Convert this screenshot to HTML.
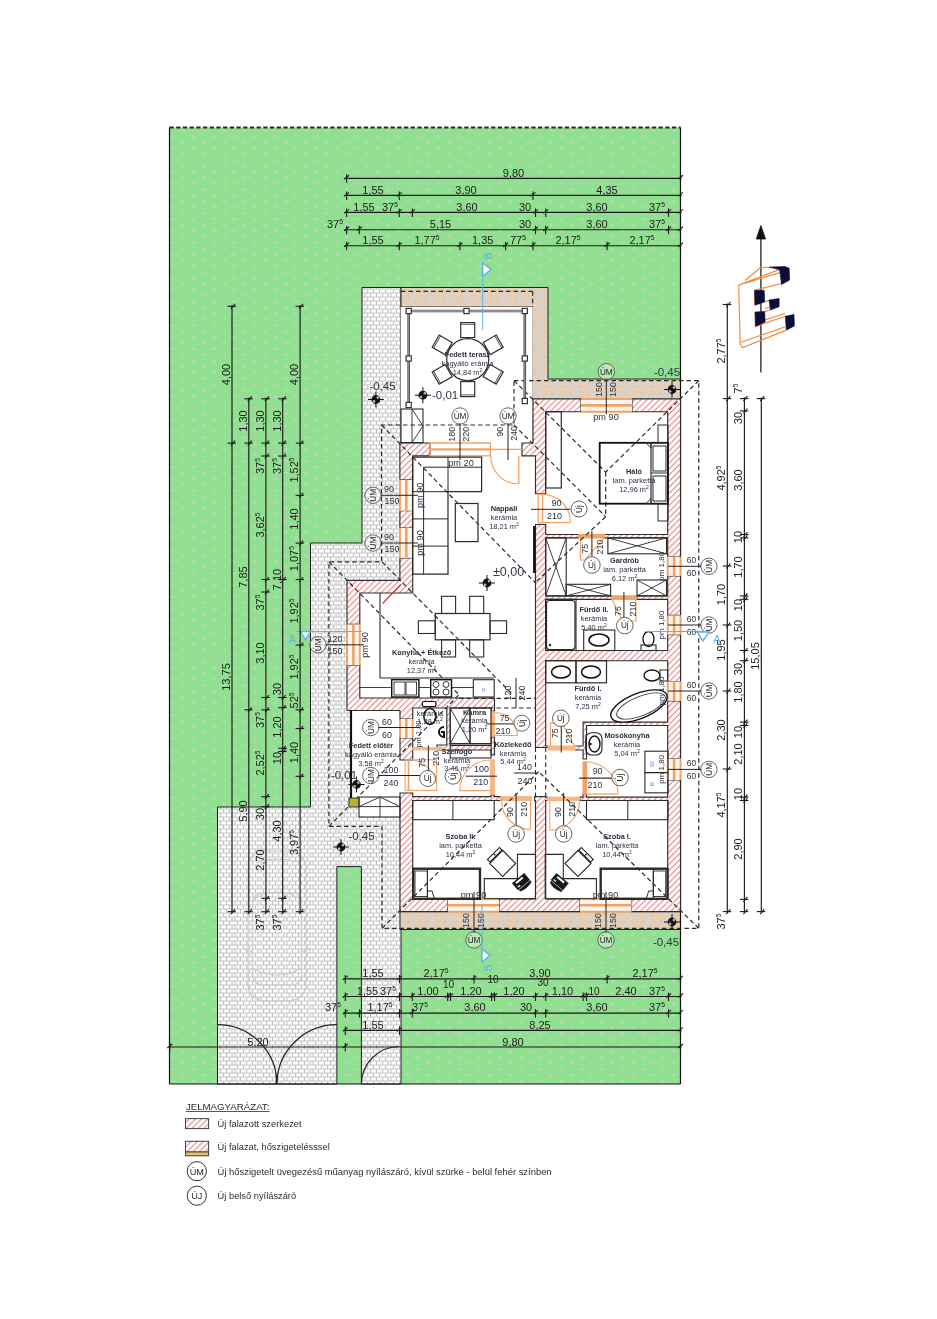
<!DOCTYPE html><html><head><meta charset="utf-8"><style>html,body{margin:0;padding:0;background:#fff;}svg{display:block;font-family:"Liberation Sans",sans-serif;filter:blur(0.35px);}</style></head><body>
<svg width="937" height="1319" viewBox="0 0 937 1319">
<defs>
<pattern id="grass" patternUnits="userSpaceOnUse" x="178.4" y="127.6" width="20.43" height="11.806"><rect width="20.43" height="11.806" fill="#91df91"/><ellipse cx="5" cy="3" rx="2.2" ry="1.25" fill="#bcd6bc" fill-opacity="0.85"/><ellipse cx="15.2" cy="8.9" rx="2.2" ry="1.25" fill="#bcd6bc" fill-opacity="0.85"/></pattern>
<pattern id="brick" patternUnits="userSpaceOnUse" x="0" y="0.5" width="26" height="8"><rect width="26" height="8" fill="#fdfdfd"/><path d="M0 0.5H26M0 4.5H26M3.5 0V4M9.5 0V4M15.5 0V4M21.5 0V4M1 4V8M6.5 4V8M12.5 4V8M18.5 4V8M24 4V8" stroke="#c4c4c4" stroke-width="1.1"/></pattern>
<pattern id="stone" patternUnits="userSpaceOnUse" width="18" height="12"><rect width="18" height="12" fill="#d8d2cc"/><ellipse cx="3" cy="2.5" rx="2.6" ry="1.9" fill="#f4c897"/><ellipse cx="10" cy="3" rx="3.1" ry="2.1" fill="#f2c99e"/><ellipse cx="16" cy="6" rx="1.8" ry="1.5" fill="#f6cb9a"/><ellipse cx="6" cy="8.5" rx="2.9" ry="2" fill="#f4c897"/><ellipse cx="12.5" cy="9.5" rx="2" ry="1.5" fill="#eec49c"/><circle cx="8" cy="5.5" r="0.8" fill="#e6e2de"/><circle cx="1" cy="6" r="0.8" fill="#e6e2de"/></pattern>
<pattern id="hatch" patternUnits="userSpaceOnUse" width="4.3" height="4.3" patternTransform="rotate(45)"><rect width="4.3" height="4.3" fill="#fff"/><rect x="0" y="0" width="1.15" height="4.3" fill="#ea8888"/></pattern>
</defs>
<rect x="169.5" y="127.5" width="511" height="956.5" fill="url(#grass)"/>
<path d="M362 287.5 L401 287.5 L401 1084 L361.4 1084 L361.4 866.6 L336.9 866.6 L336.9 1084 L217.5 1084 L217.5 807 L310.5 807 L310.5 543 L362 543 Z" fill="url(#brick)" stroke="#222" stroke-width="1"/>
<path d="M532 287.5 L401 287.5 L401 307 L532 307 L532 379 L532 399 L548 399 L680.5 399 L680.5 379 L548 379 L548 307 L548 287.5 L532 287.5Z M400 929.5 L680.5 929.5 L680.5 911.6 L400 911.6 L400 929.5Z " fill="url(#stone)" stroke="#222" stroke-width="1"/>
<rect x="401" y="307" width="131.5" height="136" fill="#fff"/>
<path d="M399.9 443 L533 443 L533 399 L680.5 399 L680.5 911.6 L400 911.6 L400 817 L359 817 L359 807 L351 807 L351 710 L347 710 L347 580.3 L399.9 580.3 Z" fill="#fff"/>
<line x1="169.5" y1="127.5" x2="680.5" y2="127.5" stroke="#2a2a2a" stroke-width="1.8" stroke-dasharray="4.2,2.5"/>
<line x1="169.5" y1="127.5" x2="169.5" y2="1084" stroke="#111" stroke-width="1.2"/>
<line x1="680.5" y1="127.5" x2="680.5" y2="1084" stroke="#111" stroke-width="1.2"/>
<line x1="169.5" y1="1084" x2="680.5" y2="1084" stroke="#111" stroke-width="1.2"/>
<path d="M533 443 L522 443 L522 455.8 L533 455.8 L535.5 455.8 L535.5 493.7 L545.7 493.7 L545.7 455.8 L545.7 411.7 L581 411.7 L581 399 L545.7 399 L533 399 L533 411.7 L533 443Z M412.7 443 L399.9 443 L399.9 455.8 L399.9 479.9 L412.7 479.9 L412.7 455.8 L430 455.8 L430 443 L412.7 443Z M399.9 528 L412.7 528 L412.7 510.7 L399.9 510.7 L399.9 528Z M399.9 580.3 L359.8 580.3 L347 580.3 L347 593 L347 624.4 L359.8 624.4 L359.8 593 L399.9 593 L412.7 593 L412.7 580.3 L412.7 557.9 L399.9 557.9 L399.9 580.3Z M347 698 L347 710.5 L359.8 710.5 L400 710.5 L400 719 L412.7 719 L412.7 710.5 L412.7 708 L446.8 708 L446.8 745 L437 745 L437 750 L491.1 750 L491.1 755 L494.5 755 L494.5 750 L494.5 745 L494.5 737 L491.1 737 L491.1 745 L450.2 745 L450.2 708 L491.1 708 L491.1 711 L494.5 711 L494.5 708 L494.5 698 L412.7 698 L359.8 698 L359.8 665.2 L347 665.2 L347 698Z M400 760 L412.7 760 L412.7 751 L412.7 750 L412.7 745 L412.7 744 L412.7 738 L400 738 L400 760Z M400 898.8 L400 911.6 L412.7 911.6 L448 911.6 L448 898.8 L412.7 898.8 L412.7 800.5 L500.8 800.5 L500.8 796.6 L494.5 796.6 L494.5 795 L491.1 795 L491.1 796.6 L412.7 796.6 L412.7 793 L400 793 L400 898.8Z M580 911.6 L580 898.8 L545.7 898.8 L545.7 800.5 L547.7 800.5 L547.7 797.1 L545.7 797.1 L545.7 796.6 L535.5 796.6 L534.6 796.6 L534.6 800.5 L535.5 800.5 L535.5 898.8 L499 898.8 L499 911.6 L580 911.6Z M667.7 911.6 L680.5 911.6 L680.5 898.8 L680.5 780 L667.7 780 L667.7 797.1 L586.5 797.1 L586.5 794 L583.1 794 L583.1 797.1 L579.8 797.1 L579.8 800.5 L583.1 800.5 L586.5 800.5 L667.7 800.5 L667.7 898.8 L631.5 898.8 L631.5 911.6 L667.7 911.6Z M680.5 700.8 L667.7 700.8 L667.7 722.1 L586.5 722.1 L583.1 722.1 L583.1 725.5 L583.1 746 L574.4 746 L574.4 750 L583.1 750 L583.1 759 L586.5 759 L586.5 725.5 L667.7 725.5 L667.7 758.7 L680.5 758.7 L680.5 700.8Z M680.5 634.6 L667.7 634.6 L667.7 650.5 L545.7 650.5 L545.7 599.3 L611.8 599.3 L611.8 595.9 L545.7 595.9 L545.7 537.9 L578.7 537.9 L578.7 534.5 L545.7 534.5 L545.7 524.5 L535.5 524.5 L535.5 695 L535.5 711 L535.5 747.5 L548.8 747.5 L548.8 746 L545.7 746 L545.7 660.7 L667.7 660.7 L667.7 681.5 L680.5 681.5 L680.5 634.6Z M680.5 575.9 L667.7 575.9 L667.7 595.9 L636.3 595.9 L636.3 599.3 L667.7 599.3 L667.7 615.4 L680.5 615.4 L680.5 575.9Z M680.5 411.7 L680.5 399 L667.7 399 L632 399 L632 411.7 L667.7 411.7 L667.7 534.5 L604.3 534.5 L604.3 537.9 L667.7 537.9 L667.7 556.7 L680.5 556.7 L680.5 411.7Z " fill="url(#hatch)" stroke="#2e2e2e" stroke-width="1.15" fill-rule="evenodd"/>
<rect x="581" y="399" width="51" height="12.7" fill="#fff7ef" stroke="none" stroke-width="0"/>
<line x1="581" y1="399" x2="632" y2="399" stroke="#f2a264" stroke-width="1.9"/>
<line x1="581" y1="405.35" x2="632" y2="405.35" stroke="#f2a264" stroke-width="2.6"/>
<line x1="581" y1="411.7" x2="632" y2="411.7" stroke="#f2a264" stroke-width="1.9"/>
<rect x="448" y="898.8" width="51" height="12.8" fill="#fff7ef" stroke="none" stroke-width="0"/>
<line x1="448" y1="898.8" x2="499" y2="898.8" stroke="#f2a264" stroke-width="1.9"/>
<line x1="448" y1="905.2" x2="499" y2="905.2" stroke="#f2a264" stroke-width="2.6"/>
<line x1="448" y1="911.6" x2="499" y2="911.6" stroke="#f2a264" stroke-width="1.9"/>
<rect x="580" y="898.8" width="51.5" height="12.8" fill="#fff7ef" stroke="none" stroke-width="0"/>
<line x1="580" y1="898.8" x2="631.5" y2="898.8" stroke="#f2a264" stroke-width="1.9"/>
<line x1="580" y1="905.2" x2="631.5" y2="905.2" stroke="#f2a264" stroke-width="2.6"/>
<line x1="580" y1="911.6" x2="631.5" y2="911.6" stroke="#f2a264" stroke-width="1.9"/>
<rect x="399.9" y="479.9" width="12.8" height="30.8" fill="#fff7ef" stroke="none" stroke-width="0"/>
<line x1="399.9" y1="479.9" x2="399.9" y2="510.7" stroke="#f2a264" stroke-width="1.9"/>
<line x1="406.3" y1="479.9" x2="406.3" y2="510.7" stroke="#f2a264" stroke-width="2.6"/>
<line x1="412.7" y1="479.9" x2="412.7" y2="510.7" stroke="#f2a264" stroke-width="1.9"/>
<rect x="399.9" y="528" width="12.8" height="29.9" fill="#fff7ef" stroke="none" stroke-width="0"/>
<line x1="399.9" y1="528" x2="399.9" y2="557.9" stroke="#f2a264" stroke-width="1.9"/>
<line x1="406.3" y1="528" x2="406.3" y2="557.9" stroke="#f2a264" stroke-width="2.6"/>
<line x1="412.7" y1="528" x2="412.7" y2="557.9" stroke="#f2a264" stroke-width="1.9"/>
<rect x="347" y="624.4" width="12.8" height="40.8" fill="#fff7ef" stroke="none" stroke-width="0"/>
<line x1="347" y1="624.4" x2="347" y2="665.2" stroke="#f2a264" stroke-width="1.9"/>
<line x1="353.4" y1="624.4" x2="353.4" y2="665.2" stroke="#f2a264" stroke-width="2.6"/>
<line x1="359.8" y1="624.4" x2="359.8" y2="665.2" stroke="#f2a264" stroke-width="1.9"/>
<rect x="400" y="719" width="12.7" height="19" fill="#fff7ef" stroke="none" stroke-width="0"/>
<line x1="400" y1="719" x2="400" y2="738" stroke="#f2a264" stroke-width="1.9"/>
<line x1="406.35" y1="719" x2="406.35" y2="738" stroke="#f2a264" stroke-width="2.6"/>
<line x1="412.7" y1="719" x2="412.7" y2="738" stroke="#f2a264" stroke-width="1.9"/>
<rect x="667.7" y="556.7" width="12.8" height="19.2" fill="#fff7ef" stroke="none" stroke-width="0"/>
<line x1="680.5" y1="556.7" x2="680.5" y2="575.9" stroke="#f2a264" stroke-width="1.9"/>
<line x1="674.1" y1="556.7" x2="674.1" y2="575.9" stroke="#f2a264" stroke-width="2.6"/>
<line x1="667.7" y1="556.7" x2="667.7" y2="575.9" stroke="#f2a264" stroke-width="1.9"/>
<rect x="667.7" y="615.4" width="12.8" height="19.2" fill="#fff7ef" stroke="none" stroke-width="0"/>
<line x1="680.5" y1="615.4" x2="680.5" y2="634.6" stroke="#f2a264" stroke-width="1.9"/>
<line x1="674.1" y1="615.4" x2="674.1" y2="634.6" stroke="#f2a264" stroke-width="2.6"/>
<line x1="667.7" y1="615.4" x2="667.7" y2="634.6" stroke="#f2a264" stroke-width="1.9"/>
<rect x="667.7" y="681.5" width="12.8" height="19.3" fill="#fff7ef" stroke="none" stroke-width="0"/>
<line x1="680.5" y1="681.5" x2="680.5" y2="700.8" stroke="#f2a264" stroke-width="1.9"/>
<line x1="674.1" y1="681.5" x2="674.1" y2="700.8" stroke="#f2a264" stroke-width="2.6"/>
<line x1="667.7" y1="681.5" x2="667.7" y2="700.8" stroke="#f2a264" stroke-width="1.9"/>
<rect x="667.7" y="758.7" width="12.8" height="21.3" fill="#fff7ef" stroke="none" stroke-width="0"/>
<line x1="680.5" y1="758.7" x2="680.5" y2="780" stroke="#f2a264" stroke-width="1.9"/>
<line x1="674.1" y1="758.7" x2="674.1" y2="780" stroke="#f2a264" stroke-width="2.6"/>
<line x1="667.7" y1="758.7" x2="667.7" y2="780" stroke="#f2a264" stroke-width="1.9"/>
<rect x="430" y="443" width="60.3" height="12.8" fill="none" stroke="#f2a264" stroke-width="1.4"/>
<line x1="430" y1="449.4" x2="490.3" y2="449.4" stroke="#f2a264" stroke-width="2.2"/>
<line x1="490.3" y1="449.4" x2="522" y2="449.4" stroke="#f2a264" stroke-width="1.4"/>
<line x1="518.8" y1="456" x2="518.8" y2="484" stroke="#f2a264" stroke-width="1.3"/>
<path d="M490.8 456 A28 28 0 0 0 518.8 484" fill="none" stroke="#f2a264" stroke-width="1.1"/>
<rect x="538.2" y="494.4" width="4.4" height="28.4" fill="none" stroke="#f2a264" stroke-width="1.3"/>
<line x1="542.6" y1="522.6" x2="570" y2="522.6" stroke="#f2a264" stroke-width="1.2"/>
<path d="M542.6 494.4 A28 28 0 0 1 570.4 522.6" fill="none" stroke="#f2a264" stroke-width="1.1"/>
<rect x="578.7" y="534.5" width="25.6" height="3.4" fill="#f2a264" stroke="#f2a264" stroke-width="1.2"/>
<path d="M580.5 537.9 L580.5 560 L585 560 L604 537.9" fill="none" stroke="#f2a264" stroke-width="1.2"/>
<rect x="611.8" y="595.9" width="24.5" height="3.4" fill="#f2a264" stroke="#f2a264" stroke-width="1.2"/>
<path d="M612 599.3 L622 620" fill="none" stroke="#f2a264" stroke-width="1.2"/>
<path d="M636 599.3 L636 621 L628 621" fill="none" stroke="#f2a264" stroke-width="1.2"/>
<rect x="548" y="746" width="27.2" height="4" fill="#f5b884" stroke="#f5b884" stroke-width="1"/>
<path d="M550.5 746 L550.5 723.2 L555 723.2" fill="none" stroke="#f2a264" stroke-width="1.2"/>
<line x1="563" y1="725" x2="574.5" y2="746" stroke="#f2a264" stroke-width="1.2"/>
<rect x="583.1" y="762" width="3.4" height="32" fill="#f2a264" stroke="#f2a264" stroke-width="1.3"/>
<line x1="586.5" y1="794" x2="618" y2="794" stroke="#f2a264" stroke-width="1.3"/>
<path d="M586.5 762 A32 32 0 0 1 618 794" fill="none" stroke="#f2a264" stroke-width="1.1"/>
<rect x="547.6" y="797.1" width="32" height="3.4" fill="#f5b884" stroke="#f5b884" stroke-width="1"/>
<path d="M579.6 800.5 A29.8 29.8 0 0 1 549.8 830.3 M549.8 800.5 V830.3" fill="none" stroke="#f2a264" stroke-width="1.1"/>
<rect x="500.7" y="796.6" width="30.9" height="3.9" fill="#f5b884" stroke="#f5b884" stroke-width="1"/>
<path d="M501.5 800.5 A29 29 0 0 0 530.5 829.5 M530.5 800.5 V829.5" fill="none" stroke="#f2a264" stroke-width="1.1"/>
<rect x="490.4" y="712" width="4" height="24" fill="#f5b884" stroke="#f5b884" stroke-width="1"/>
<path d="M494.4 712.5 A23 23 0 0 1 517.4 735.5 H494.4" fill="none" stroke="#f2a264" stroke-width="1.1"/>
<rect x="490.4" y="759.8" width="4" height="34.4" fill="#f5b884" stroke="#f5b884" stroke-width="1"/>
<path d="M490.4 760 A30.6 30.6 0 0 0 459.8 790.6 H490.4" fill="none" stroke="#f2a264" stroke-width="1.1"/>
<rect x="412.7" y="747.6" width="32.9" height="2.4" fill="#f5b884" stroke="#f5b884" stroke-width="0.8"/>
<rect x="405.2" y="759.8" width="31.4" height="30.6" fill="none" stroke="#f2a264" stroke-width="1.1"/>
<line x1="408.5" y1="759.8" x2="408.5" y2="790.4" stroke="#f2a264" stroke-width="1.6"/>
<path d="M412.7 760 A28 28 0 0 1 436.6 788" fill="none" stroke="#f2a264" stroke-width="1.0"/>
<path d="M514 380.6 L698.8 380.6 L698.8 928.4 L382 928.4 L382 826.4 L328.9 826.4 L328.9 561.8 L381.5 561.8 L381.5 425 L514 425 Z" fill="none" stroke="#2a2a2a" stroke-width="1.2" stroke-dasharray="4.5,3"/>
<line x1="381.5" y1="425" x2="535.2" y2="582.5" stroke="#2a2a2a" stroke-width="1.2" stroke-dasharray="4.5,3"/>
<line x1="605.7" y1="516.7" x2="535.2" y2="582.5" stroke="#2a2a2a" stroke-width="1.2" stroke-dasharray="4.5,3"/>
<line x1="514" y1="380.6" x2="605.7" y2="472.1" stroke="#2a2a2a" stroke-width="1.2" stroke-dasharray="4.5,3"/>
<line x1="698.8" y1="380.6" x2="605.7" y2="472.1" stroke="#2a2a2a" stroke-width="1.2" stroke-dasharray="4.5,3"/>
<line x1="605.7" y1="472.1" x2="605.7" y2="516.7" stroke="#2a2a2a" stroke-width="1.2" stroke-dasharray="4.5,3"/>
<line x1="514" y1="425" x2="605.7" y2="516.7" stroke="#2a2a2a" stroke-width="1.2" stroke-dasharray="4.5,3"/>
<line x1="328.9" y1="561.8" x2="459" y2="694.8" stroke="#2a2a2a" stroke-width="1.2" stroke-dasharray="4.5,3"/>
<line x1="328.9" y1="826.4" x2="459" y2="694.8" stroke="#2a2a2a" stroke-width="1.2" stroke-dasharray="4.5,3"/>
<line x1="382" y1="561.8" x2="512" y2="694" stroke="#2a2a2a" stroke-width="1.2" stroke-dasharray="4.5,3"/>
<line x1="382" y1="928.4" x2="538.7" y2="771.7" stroke="#2a2a2a" stroke-width="1.2" stroke-dasharray="4.5,3"/>
<line x1="698.8" y1="928.4" x2="538.7" y2="771.7" stroke="#2a2a2a" stroke-width="1.2" stroke-dasharray="4.5,3"/>
<line x1="459" y1="698.4" x2="535.5" y2="698.4" stroke="#2a2a2a" stroke-width="1.2" stroke-dasharray="4.5,3"/>
<line x1="459" y1="708" x2="535.5" y2="708" stroke="#2a2a2a" stroke-width="1.2" stroke-dasharray="4.5,3"/>
<line x1="535.5" y1="747.5" x2="535.5" y2="796.6" stroke="#2a2a2a" stroke-width="1.1" stroke-dasharray="4.5,3"/>
<line x1="545.7" y1="747.5" x2="545.7" y2="796.6" stroke="#2a2a2a" stroke-width="1.1" stroke-dasharray="4.5,3"/>
<line x1="401" y1="291.3" x2="532.6" y2="291.3" stroke="#2a2a2a" stroke-width="1.2" stroke-dasharray="4.5,3"/>
<line x1="532.6" y1="291.3" x2="532.6" y2="307" stroke="#2a2a2a" stroke-width="1.2" stroke-dasharray="4.5,3"/>
<g stroke="#3a3a3a" fill="none">
<line x1="408.7" y1="311" x2="524.8" y2="311" stroke="#444" stroke-width="2.6"/>
<line x1="408.7" y1="311" x2="524.8" y2="311" stroke="#fff" stroke-width="0.8"/>
<line x1="408.7" y1="311" x2="408.7" y2="405" stroke="#444" stroke-width="2.6"/>
<line x1="408.7" y1="311" x2="408.7" y2="405" stroke="#ddd" stroke-width="0.6"/>
<line x1="524.8" y1="311" x2="524.8" y2="401" stroke="#444" stroke-width="2.6"/>
<line x1="524.8" y1="311" x2="524.8" y2="401" stroke="#ddd" stroke-width="0.6"/>
</g>
<rect x="406.1" y="308.4" width="5.2" height="5.2" fill="#fff" stroke="#333" stroke-width="1.2"/>
<rect x="463.9" y="308.4" width="5.2" height="5.2" fill="#fff" stroke="#333" stroke-width="1.2"/>
<rect x="522.2" y="308.4" width="5.2" height="5.2" fill="#fff" stroke="#333" stroke-width="1.2"/>
<rect x="406.1" y="355.9" width="5.2" height="5.2" fill="#fff" stroke="#333" stroke-width="1.2"/>
<rect x="522.2" y="355.9" width="5.2" height="5.2" fill="#fff" stroke="#333" stroke-width="1.2"/>
<rect x="406.1" y="402.4" width="5.2" height="5.2" fill="#fff" stroke="#333" stroke-width="1.2"/>
<rect x="522.2" y="398.4" width="5.2" height="5.2" fill="#fff" stroke="#333" stroke-width="1.2"/>
<circle cx="467.7" cy="359.6" r="21" fill="#fff" stroke="#333" stroke-width="1.3"/>
<g transform="translate(467.7 359.6) rotate(0)"><rect x="-7" y="-37" width="14" height="15" fill="#fff" stroke="#333" stroke-width="1.2"/><line x1="-7" y1="-35.3" x2="7" y2="-35.3" stroke="#333" stroke-width="0.8"/></g>
<g transform="translate(467.7 359.6) rotate(60)"><rect x="-7" y="-37" width="14" height="15" fill="#fff" stroke="#333" stroke-width="1.2"/><line x1="-7" y1="-35.3" x2="7" y2="-35.3" stroke="#333" stroke-width="0.8"/></g>
<g transform="translate(467.7 359.6) rotate(120)"><rect x="-7" y="-37" width="14" height="15" fill="#fff" stroke="#333" stroke-width="1.2"/><line x1="-7" y1="-35.3" x2="7" y2="-35.3" stroke="#333" stroke-width="0.8"/></g>
<g transform="translate(467.7 359.6) rotate(180)"><rect x="-7" y="-37" width="14" height="15" fill="#fff" stroke="#333" stroke-width="1.2"/><line x1="-7" y1="-35.3" x2="7" y2="-35.3" stroke="#333" stroke-width="0.8"/></g>
<g transform="translate(467.7 359.6) rotate(240)"><rect x="-7" y="-37" width="14" height="15" fill="#fff" stroke="#333" stroke-width="1.2"/><line x1="-7" y1="-35.3" x2="7" y2="-35.3" stroke="#333" stroke-width="0.8"/></g>
<g transform="translate(467.7 359.6) rotate(300)"><rect x="-7" y="-37" width="14" height="15" fill="#fff" stroke="#333" stroke-width="1.2"/><line x1="-7" y1="-35.3" x2="7" y2="-35.3" stroke="#333" stroke-width="0.8"/></g>
<rect x="401" y="409" width="22" height="33.6" fill="none" stroke="#2a2a2a" stroke-width="1.1"/>
<line x1="412" y1="409" x2="412" y2="442.6" stroke="#2a2a2a" stroke-width="0.9"/>
<line x1="412" y1="409" x2="423" y2="426" stroke="#2a2a2a" stroke-width="0.9"/>
<line x1="423" y1="426" x2="412" y2="442.6" stroke="#2a2a2a" stroke-width="0.9"/>
<path d="M412.7 457.2 L481.6 457.2 L481.6 491.7 L448 491.7 L448 574.2 L412.7 574.2 Z" fill="none" stroke="#2a2a2a" stroke-width="1.2"/>
<line x1="423.6" y1="467.2" x2="481.6" y2="467.2" stroke="#2a2a2a" stroke-width="1"/>
<line x1="423.6" y1="467.2" x2="423.6" y2="574.2" stroke="#2a2a2a" stroke-width="1"/>
<line x1="412.7" y1="491.7" x2="448" y2="491.7" stroke="#2a2a2a" stroke-width="1"/>
<line x1="412.7" y1="518.9" x2="448" y2="518.9" stroke="#2a2a2a" stroke-width="1"/>
<line x1="412.7" y1="546.1" x2="448" y2="546.1" stroke="#2a2a2a" stroke-width="1"/>
<line x1="448" y1="457.2" x2="448" y2="491.7" stroke="#2a2a2a" stroke-width="1"/>
<rect x="455.3" y="503.5" width="22.7" height="38.1" fill="none" stroke="#2a2a2a" stroke-width="1.2"/>
<line x1="534.2" y1="526" x2="534.2" y2="573" stroke="#111" stroke-width="2.2"/>
<line x1="380" y1="593" x2="380" y2="678" stroke="#2a2a2a" stroke-width="1.1"/>
<line x1="380" y1="678" x2="494.2" y2="678" stroke="#2a2a2a" stroke-width="1.1"/>
<line x1="359.8" y1="687.5" x2="494.2" y2="687.5" stroke="#2a2a2a" stroke-width="0.9"/>
<rect x="391.7" y="679.7" width="27.2" height="17.3" fill="#fff" stroke="#111" stroke-width="1.4"/>
<rect x="394" y="682" width="11" height="13" fill="none" stroke="#2a2a2a" stroke-width="0.9"/>
<rect x="406" y="682" width="10.5" height="13" fill="none" stroke="#2a2a2a" stroke-width="0.9"/>
<rect x="430.7" y="679.7" width="20.8" height="17.3" fill="#fff" stroke="#111" stroke-width="1.4"/>
<circle cx="436" cy="684.5" r="3" fill="none" stroke="#222" stroke-width="0.9"/>
<circle cx="446" cy="684.5" r="3" fill="none" stroke="#222" stroke-width="0.9"/>
<circle cx="436" cy="692" r="3" fill="none" stroke="#222" stroke-width="0.9"/>
<circle cx="446" cy="692" r="3" fill="none" stroke="#222" stroke-width="0.9"/>
<rect x="473.3" y="679.7" width="20.9" height="17.3" fill="#fff" stroke="#2a2a2a" stroke-width="1.1"/>
<text x="483.5" y="692" font-size="5" text-anchor="middle" fill="#6677cc">H</text>
<rect x="435.2" y="613.5" width="54.8" height="26.3" fill="none" stroke="#2a2a2a" stroke-width="1.2"/>
<rect x="441.6" y="596.3" width="14" height="17.2" fill="none" stroke="#2a2a2a" stroke-width="1.1"/>
<rect x="441.6" y="639.8" width="14" height="17.2" fill="none" stroke="#2a2a2a" stroke-width="1.1"/>
<rect x="469.7" y="596.3" width="14" height="17.2" fill="none" stroke="#2a2a2a" stroke-width="1.1"/>
<rect x="469.7" y="639.8" width="14" height="17.2" fill="none" stroke="#2a2a2a" stroke-width="1.1"/>
<rect x="418.4" y="620.8" width="16.8" height="12.7" fill="none" stroke="#2a2a2a" stroke-width="1.1"/>
<rect x="490" y="620.8" width="16.6" height="12.7" fill="none" stroke="#2a2a2a" stroke-width="1.1"/>
<line x1="382.6" y1="603.5" x2="400.8" y2="584.5" stroke="#e03030" stroke-width="1.2"/>
<line x1="351" y1="710" x2="351" y2="801" stroke="#111" stroke-width="2.2"/>
<rect x="349" y="798" width="10" height="9" fill="#b8b230" stroke="#333" stroke-width="1"/>
<rect x="359" y="797" width="41" height="20" fill="none" stroke="#2a2a2a" stroke-width="1.1"/>
<line x1="380" y1="797" x2="380" y2="817" stroke="#2a2a2a" stroke-width="0.9"/>
<line x1="359" y1="806.6" x2="380" y2="797" stroke="#2a2a2a" stroke-width="0.9"/>
<line x1="380" y1="797" x2="400" y2="806.6" stroke="#2a2a2a" stroke-width="0.9"/>
<line x1="359" y1="806.6" x2="400" y2="806.6" stroke="#2a2a2a" stroke-width="0.9"/>
<ellipse cx="429.9" cy="716.4" rx="6" ry="8" fill="none" stroke="#111" stroke-width="1.5"/>
<rect x="422.4" y="701.5" width="13.5" height="5.2" rx="1.5" fill="#fff" stroke="#111" stroke-width="1.2"/>
<path d="M444 727 A5 5 0 1 0 444 737 L444 732 H441" fill="none" stroke="#111" stroke-width="2"/>
<rect x="450.2" y="708" width="19.8" height="35.5" fill="none" stroke="#2a2a2a" stroke-width="1.1"/>
<line x1="450.2" y1="708" x2="470" y2="743.5" stroke="#2a2a2a" stroke-width="0.9"/>
<line x1="450.2" y1="743.5" x2="470" y2="708" stroke="#2a2a2a" stroke-width="0.9"/>
<rect x="470" y="708" width="21.1" height="35.5" fill="none" stroke="#2a2a2a" stroke-width="1"/>
<rect x="450.2" y="745.5" width="40.9" height="12.5" fill="none" stroke="#2a2a2a" stroke-width="1.1"/>
<rect x="545.7" y="537.9" width="20.5" height="58" fill="none" stroke="#2a2a2a" stroke-width="1.1"/>
<line x1="545.7" y1="537.9" x2="566.2" y2="595.9" stroke="#2a2a2a" stroke-width="0.9"/>
<line x1="545.7" y1="595.9" x2="566.2" y2="537.9" stroke="#2a2a2a" stroke-width="0.9"/>
<rect x="607.9" y="537.9" width="58.6" height="15.9" fill="none" stroke="#2a2a2a" stroke-width="1.1"/>
<line x1="607.9" y1="537.9" x2="666.5" y2="553.8" stroke="#2a2a2a" stroke-width="0.9"/>
<line x1="607.9" y1="553.8" x2="666.5" y2="537.9" stroke="#2a2a2a" stroke-width="0.9"/>
<rect x="566.2" y="584.3" width="44.4" height="11.6" fill="none" stroke="#2a2a2a" stroke-width="1.1"/>
<line x1="566.2" y1="584.3" x2="610.6" y2="595.9" stroke="#2a2a2a" stroke-width="0.9"/>
<line x1="566.2" y1="595.9" x2="610.6" y2="584.3" stroke="#2a2a2a" stroke-width="0.9"/>
<rect x="637" y="580" width="29.5" height="15.9" fill="none" stroke="#2a2a2a" stroke-width="1.1"/>
<line x1="637" y1="580" x2="666.5" y2="595.9" stroke="#2a2a2a" stroke-width="0.9"/>
<line x1="637" y1="595.9" x2="666.5" y2="580" stroke="#2a2a2a" stroke-width="0.9"/>
<rect x="545.7" y="411.7" width="15.6" height="76.3" fill="none" stroke="#2a2a2a" stroke-width="1.2"/>
<rect x="599.7" y="442.8" width="68.3" height="60.9" fill="none" stroke="#111" stroke-width="1.8"/>
<line x1="651" y1="442.8" x2="651" y2="503.7" stroke="#2a2a2a" stroke-width="1.2"/>
<line x1="651" y1="473" x2="668" y2="473" stroke="#2a2a2a" stroke-width="1"/>
<rect x="653" y="446" width="13" height="25" fill="none" stroke="#2a2a2a" stroke-width="1"/>
<rect x="653" y="476" width="13" height="25" fill="none" stroke="#2a2a2a" stroke-width="1"/>
<path d="M646 442.8 L651 448 L651 442.8 Z" fill="none" stroke="#2a2a2a" stroke-width="0.9"/>
<path d="M646 503.7 L651 498.5 L651 503.7 Z" fill="none" stroke="#2a2a2a" stroke-width="0.9"/>
<rect x="658" y="425" width="10" height="17.8" fill="none" stroke="#2a2a2a" stroke-width="1"/>
<rect x="658" y="503.7" width="10" height="17.3" fill="none" stroke="#2a2a2a" stroke-width="1"/>
<rect x="546.5" y="600.5" width="28.5" height="49" rx="3" fill="none" stroke="#222" stroke-width="1.2"/>
<rect x="545.7" y="599.3" width="30.3" height="51.2" fill="none" stroke="#2a2a2a" stroke-width="1.1"/>
<circle cx="550" cy="645" r="1.2" fill="#222"/>
<rect x="583.7" y="630" width="31.1" height="20.5" fill="none" stroke="#2a2a2a" stroke-width="1.1"/>
<ellipse cx="599" cy="640" rx="10" ry="6" fill="none" stroke="#111" stroke-width="1.5"/>
<ellipse cx="648.5" cy="639" rx="5.5" ry="7.5" fill="none" stroke="#111" stroke-width="1.3"/>
<rect x="641" y="645" width="15" height="5.5" fill="none" stroke="#2a2a2a" stroke-width="1.1"/>
<rect x="545.7" y="660.7" width="30.3" height="22.1" fill="none" stroke="#2a2a2a" stroke-width="1.2"/>
<rect x="576" y="660.7" width="30.5" height="22.1" fill="none" stroke="#2a2a2a" stroke-width="1.2"/>
<ellipse cx="561" cy="672" rx="9.5" ry="6" fill="none" stroke="#111" stroke-width="1.5"/>
<ellipse cx="591" cy="672" rx="9.5" ry="6" fill="none" stroke="#111" stroke-width="1.5"/>
<ellipse cx="639" cy="706" rx="30" ry="12.5" transform="rotate(-22 639 706)" fill="#fff" stroke="#111" stroke-width="1.4"/>
<ellipse cx="641" cy="706" rx="26" ry="9.5" transform="rotate(-22 641 706)" fill="none" stroke="#333" stroke-width="0.9"/>
<ellipse cx="652" cy="675.5" rx="8" ry="5.5" fill="none" stroke="#111" stroke-width="1.3"/>
<rect x="660" y="670" width="7.7" height="11" fill="none" stroke="#2a2a2a" stroke-width="1"/>
<rect x="585.7" y="732.7" width="16.3" height="22.3" rx="6" fill="none" stroke="#222" stroke-width="1.1"/>
<ellipse cx="594.5" cy="744" rx="5.5" ry="8" fill="none" stroke="#111" stroke-width="1.4"/>
<circle cx="590.5" cy="744" r="1.2" fill="#111"/>
<rect x="644.9" y="751.2" width="23.1" height="21.4" fill="none" stroke="#2a2a2a" stroke-width="1.1"/>
<rect x="644.9" y="772.6" width="23.1" height="20.2" fill="none" stroke="#2a2a2a" stroke-width="1.1"/>
<text x="654" y="764" font-size="4.5" text-anchor="middle" fill="#5566cc" transform="rotate(-90 654 764)">SZ</text>
<text x="654" y="784" font-size="4.5" text-anchor="middle" fill="#5566cc" transform="rotate(-90 654 784)">M</text>
<rect x="412.7" y="800.5" width="81.5" height="19.2" fill="none" stroke="#2a2a2a" stroke-width="1.1"/>
<line x1="452.9" y1="800.5" x2="452.9" y2="819.7" stroke="#2a2a2a" stroke-width="1"/>
<rect x="413.2" y="868.7" width="66.8" height="30.1" fill="none" stroke="#2a2a2a" stroke-width="2.4"/>
<line x1="427.4" y1="868.7" x2="427.4" y2="898.8" stroke="#2a2a2a" stroke-width="1.1"/>
<rect x="415" y="871" width="12.4" height="25.5" fill="none" stroke="#2a2a2a" stroke-width="0.9"/>
<path d="M427.4 891 L432 891 L434.5 898.8" fill="none" stroke="#2a2a2a" stroke-width="1"/>
<path d="M484.3 898.8 L484.3 878.6 L517.4 878.6 L517.4 854.4 L535.5 854.4 L535.5 898.8 Z" fill="none" stroke="#2a2a2a" stroke-width="1.1"/>
<g transform="translate(502.7 863.4) rotate(45)"><rect x="-9.2" y="-9.2" width="18.4" height="18.4" fill="#fff" stroke="#222" stroke-width="1.1"/></g>
<g transform="translate(494.7 854.7) rotate(-45)"><rect x="-8.5" y="-1.8" width="17" height="3.6" fill="#fff" stroke="#222" stroke-width="1.1"/><circle r="0.9" fill="#222"/></g>
<g transform="translate(521 881.6) rotate(-40)"><rect x="-8" y="-4.5" width="16" height="9" fill="#181818"/><rect x="-5" y="-3" width="9" height="2" fill="#fff"/><rect x="-6" y="1.5" width="3" height="1.6" fill="#ddd"/><path d="M-7 7 Q0 10 8 7 L8 5 L-7 5Z" fill="#181818"/></g>
<rect x="586.5" y="800.5" width="81.5" height="19.2" fill="none" stroke="#2a2a2a" stroke-width="1.1"/>
<line x1="627.8" y1="800.5" x2="627.8" y2="819.7" stroke="#2a2a2a" stroke-width="1"/>
<rect x="600.7" y="868.7" width="66.8" height="30.1" fill="none" stroke="#2a2a2a" stroke-width="2.4"/>
<line x1="653.3" y1="868.7" x2="653.3" y2="898.8" stroke="#2a2a2a" stroke-width="1.1"/>
<rect x="653.3" y="871" width="12.4" height="25.5" fill="none" stroke="#2a2a2a" stroke-width="0.9"/>
<path d="M653.3 891 L648.7 891 L646.2 898.8" fill="none" stroke="#2a2a2a" stroke-width="1"/>
<path d="M596.4 898.8 L596.4 878.6 L563.3 878.6 L563.3 854.4 L545.2 854.4 L545.2 898.8 Z" fill="none" stroke="#2a2a2a" stroke-width="1.1"/>
<g transform="translate(578 863.4) rotate(-45)"><rect x="-9.2" y="-9.2" width="18.4" height="18.4" fill="#fff" stroke="#222" stroke-width="1.1"/></g>
<g transform="translate(586 854.7) rotate(45)"><rect x="-8.5" y="-1.8" width="17" height="3.6" fill="#fff" stroke="#222" stroke-width="1.1"/><circle r="0.9" fill="#222"/></g>
<g transform="translate(559.7 881.6) rotate(40)"><rect x="-8" y="-4.5" width="16" height="9" fill="#181818"/><rect x="-5" y="-3" width="9" height="2" fill="#fff"/><rect x="-6" y="1.5" width="3" height="1.6" fill="#ddd"/><path d="M-7 7 Q0 10 8 7 L8 5 L-7 5Z" fill="#181818"/></g>
<g fill="none" stroke="#c9c9c9" stroke-width="1.15">
<rect x="248" y="851" width="58" height="150" rx="17"/>
<rect x="252.5" y="893" width="49" height="92" rx="9"/>
<path d="M252.5 900 Q277 884 301.5 900 M252.5 968 Q277 982 301.5 968 M243 948 L252 952 M311 948 L302 952 M256 862 Q277 856 298 862"/>
</g>
<path d="M217.4 1024.6 A59.5 59.5 0 0 1 276.9 1084.1 M336.9 1024.6 A60 60 0 0 0 276.9 1084.1 M399.3 1046.5 A37.9 37.9 0 0 0 361.4 1084.1" fill="none" stroke="#222" stroke-width="1.2"/>
<line x1="276.5" y1="1075" x2="276.5" y2="1084" stroke="#222" stroke-width="1.6"/>
<text x="467.5" y="357" font-size="7.4" text-anchor="middle" font-weight="bold" fill="#2a2f3c">Fedett terasz</text>
<text x="467.5" y="366" font-size="7.4" text-anchor="middle" font-weight="normal" fill="#2b3142">kagyálló erámia</text>
<text x="467.5" y="375" font-size="7.4" text-anchor="middle" font-weight="normal" fill="#2b3142">14,84 m<tspan dy="-3" font-size="5">2</tspan></text>
<text x="504" y="511" font-size="7.4" text-anchor="middle" font-weight="bold" fill="#2a2f3c">Nappali</text>
<text x="504" y="520" font-size="7.4" text-anchor="middle" font-weight="normal" fill="#2b3142">kerámia</text>
<text x="504" y="529" font-size="7.4" text-anchor="middle" font-weight="normal" fill="#2b3142">18,21 m<tspan dy="-3" font-size="5">2</tspan></text>
<text x="634" y="474" font-size="7.4" text-anchor="middle" font-weight="bold" fill="#2a2f3c">Háló</text>
<text x="634" y="483" font-size="7.4" text-anchor="middle" font-weight="normal" fill="#2b3142">lam. parketta</text>
<text x="634" y="492" font-size="7.4" text-anchor="middle" font-weight="normal" fill="#2b3142">12,96 m<tspan dy="-3" font-size="5">2</tspan></text>
<text x="624.5" y="563" font-size="7.4" text-anchor="middle" font-weight="bold" fill="#2a2f3c">Gardrób</text>
<text x="624.5" y="572" font-size="7.4" text-anchor="middle" font-weight="normal" fill="#2b3142">lam. parketta</text>
<text x="624.5" y="581" font-size="7.4" text-anchor="middle" font-weight="normal" fill="#2b3142">6,12 m<tspan dy="-3" font-size="5">2</tspan></text>
<text x="594" y="612" font-size="7.4" text-anchor="middle" font-weight="bold" fill="#2a2f3c">Fürdő II.</text>
<text x="594" y="621" font-size="7.4" text-anchor="middle" font-weight="normal" fill="#2b3142">kerámia</text>
<text x="594" y="630" font-size="7.4" text-anchor="middle" font-weight="normal" fill="#2b3142">5,40 m<tspan dy="-3" font-size="5">2</tspan></text>
<text x="588" y="691" font-size="7.4" text-anchor="middle" font-weight="bold" fill="#2a2f3c">Fürdő I.</text>
<text x="588" y="700" font-size="7.4" text-anchor="middle" font-weight="normal" fill="#2b3142">kerámia</text>
<text x="588" y="709" font-size="7.4" text-anchor="middle" font-weight="normal" fill="#2b3142">7,25 m<tspan dy="-3" font-size="5">2</tspan></text>
<text x="627" y="737.5" font-size="7.4" text-anchor="middle" font-weight="bold" fill="#2a2f3c">Mosókonyha</text>
<text x="627" y="746.5" font-size="7.4" text-anchor="middle" font-weight="normal" fill="#2b3142">kerámia</text>
<text x="627" y="755.5" font-size="7.4" text-anchor="middle" font-weight="normal" fill="#2b3142">5,04 m<tspan dy="-3" font-size="5">2</tspan></text>
<text x="421.6" y="655" font-size="7.4" text-anchor="middle" font-weight="bold" fill="#2a2f3c">Konyha + Étkező</text>
<text x="421.6" y="664" font-size="7.4" text-anchor="middle" font-weight="normal" fill="#2b3142">kerámia</text>
<text x="421.6" y="673" font-size="7.4" text-anchor="middle" font-weight="normal" fill="#2b3142">12,37 m<tspan dy="-3" font-size="5">2</tspan></text>
<text x="371" y="748" font-size="7.4" text-anchor="middle" font-weight="bold" fill="#2a2f3c">Fedett előtér</text>
<text x="371" y="757" font-size="7.4" text-anchor="middle" font-weight="normal" fill="#2b3142">kagyálló erámia</text>
<text x="371" y="766" font-size="7.4" text-anchor="middle" font-weight="normal" fill="#2b3142">3,58 m<tspan dy="-3" font-size="5">2</tspan></text>
<text x="430" y="707.5" font-size="7.4" text-anchor="middle" font-weight="bold" fill="#2a2f3c"></text>
<text x="430" y="715.7" font-size="7.4" text-anchor="middle" font-weight="normal" fill="#2b3142">kerámia</text>
<text x="430" y="723.9" font-size="7.4" text-anchor="middle" font-weight="normal" fill="#2b3142">1,28 m<tspan dy="-3" font-size="5">2</tspan></text>
<text x="474.5" y="714.5" font-size="7.4" text-anchor="middle" font-weight="bold" fill="#2a2f3c">Kamra</text>
<text x="474.5" y="723" font-size="7.4" text-anchor="middle" font-weight="normal" fill="#2b3142">kerámia</text>
<text x="474.5" y="731.5" font-size="7.4" text-anchor="middle" font-weight="normal" fill="#2b3142">1,20 m<tspan dy="-3" font-size="5">2</tspan></text>
<text x="457" y="754" font-size="7.4" text-anchor="middle" font-weight="bold" fill="#2a2f3c">Szélfogó</text>
<text x="457" y="762.5" font-size="7.4" text-anchor="middle" font-weight="normal" fill="#2b3142">kerámia</text>
<text x="457" y="771" font-size="7.4" text-anchor="middle" font-weight="normal" fill="#2b3142">3,46 m<tspan dy="-3" font-size="5">2</tspan></text>
<text x="513" y="747" font-size="7.4" text-anchor="middle" font-weight="bold" fill="#2a2f3c">Közlekedő</text>
<text x="513" y="755.5" font-size="7.4" text-anchor="middle" font-weight="normal" fill="#2b3142">kerámia</text>
<text x="513" y="764" font-size="7.4" text-anchor="middle" font-weight="normal" fill="#2b3142">5,44 m<tspan dy="-3" font-size="5">2</tspan></text>
<text x="460.5" y="839" font-size="7.4" text-anchor="middle" font-weight="bold" fill="#2a2f3c">Szoba II.</text>
<text x="460.5" y="848" font-size="7.4" text-anchor="middle" font-weight="normal" fill="#2b3142">lam. parketta</text>
<text x="460.5" y="857" font-size="7.4" text-anchor="middle" font-weight="normal" fill="#2b3142">10,44 m<tspan dy="-3" font-size="5">2</tspan></text>
<text x="617" y="839" font-size="7.4" text-anchor="middle" font-weight="bold" fill="#2a2f3c">Szoba I.</text>
<text x="617" y="848" font-size="7.4" text-anchor="middle" font-weight="normal" fill="#2b3142">lam. parketta</text>
<text x="617" y="857" font-size="7.4" text-anchor="middle" font-weight="normal" fill="#2b3142">10,44 m<tspan dy="-3" font-size="5">2</tspan></text>
<circle cx="606.3" cy="371.7" r="8.2" fill="#fff" fill-opacity="0.35" stroke="#555" stroke-width="0.9"/>
<text x="606.3" y="374.5" font-size="8.2" text-anchor="middle" font-weight="normal" fill="#1e1e1e">ÚM</text>
<line x1="606.3" y1="379.3" x2="606.3" y2="414.5" stroke="#222" stroke-width="1"/>
<text x="602" y="389.5" font-size="8.92" text-anchor="middle" font-weight="normal" fill="#2b3142" transform="rotate(-90 602 389.5)">150</text>
<text x="616" y="389.5" font-size="8.92" text-anchor="middle" font-weight="normal" fill="#2b3142" transform="rotate(-90 616 389.5)">150</text>
<text x="606" y="420" font-size="9.2" text-anchor="middle" font-weight="normal" fill="#2b3142">pm 90</text>
<circle cx="474" cy="940" r="8.2" fill="#fff" fill-opacity="0.35" stroke="#555" stroke-width="0.9"/>
<text x="474" y="942.8" font-size="8.2" text-anchor="middle" font-weight="normal" fill="#1e1e1e">ÚM</text>
<line x1="474" y1="932.4" x2="474" y2="892" stroke="#222" stroke-width="1"/>
<text x="469" y="920.5" font-size="8.92" text-anchor="middle" font-weight="normal" fill="#2b3142" transform="rotate(-90 469 920.5)">150</text>
<text x="484" y="920.5" font-size="8.92" text-anchor="middle" font-weight="normal" fill="#2b3142" transform="rotate(-90 484 920.5)">150</text>
<text x="473.5" y="897.5" font-size="9.2" text-anchor="middle" font-weight="normal" fill="#2b3142">pm 90</text>
<circle cx="606" cy="940" r="8.2" fill="#fff" fill-opacity="0.35" stroke="#555" stroke-width="0.9"/>
<text x="606" y="942.8" font-size="8.2" text-anchor="middle" font-weight="normal" fill="#1e1e1e">ÚM</text>
<line x1="606" y1="932.4" x2="606" y2="892" stroke="#222" stroke-width="1"/>
<text x="601" y="920.5" font-size="8.92" text-anchor="middle" font-weight="normal" fill="#2b3142" transform="rotate(-90 601 920.5)">150</text>
<text x="616" y="920.5" font-size="8.92" text-anchor="middle" font-weight="normal" fill="#2b3142" transform="rotate(-90 616 920.5)">150</text>
<text x="605.5" y="897.5" font-size="9.2" text-anchor="middle" font-weight="normal" fill="#2b3142">pm 90</text>
<circle cx="460" cy="416" r="8.2" fill="#fff" fill-opacity="0.35" stroke="#555" stroke-width="0.9"/>
<text x="460" y="418.8" font-size="8.2" text-anchor="middle" font-weight="normal" fill="#1e1e1e">ÚM</text>
<line x1="460" y1="423.6" x2="460" y2="460" stroke="#222" stroke-width="1"/>
<text x="455" y="434.3" font-size="8.92" text-anchor="middle" font-weight="normal" fill="#2b3142" transform="rotate(-90 455 434.3)">180</text>
<text x="469" y="434.3" font-size="8.92" text-anchor="middle" font-weight="normal" fill="#2b3142" transform="rotate(-90 469 434.3)">220</text>
<circle cx="508" cy="416" r="8.2" fill="#fff" fill-opacity="0.35" stroke="#555" stroke-width="0.9"/>
<text x="508" y="418.8" font-size="8.2" text-anchor="middle" font-weight="normal" fill="#1e1e1e">ÚM</text>
<line x1="508" y1="423.6" x2="508" y2="460" stroke="#222" stroke-width="1"/>
<text x="503" y="431.7" font-size="8.92" text-anchor="middle" font-weight="normal" fill="#2b3142" transform="rotate(-90 503 431.7)">90</text>
<text x="517" y="433.4" font-size="8.92" text-anchor="middle" font-weight="normal" fill="#2b3142" transform="rotate(-90 517 433.4)">240</text>
<text x="461" y="466" font-size="9.2" text-anchor="middle" font-weight="normal" fill="#2b3142">pm 20</text>
<circle cx="373" cy="495.3" r="8.2" fill="#fff" fill-opacity="0.35" stroke="#555" stroke-width="0.9"/>
<text x="375.8" y="495.3" font-size="8.2" text-anchor="middle" font-weight="normal" fill="#1e1e1e" transform="rotate(-90 375.8 495.3)">ÚM</text>
<line x1="380.6" y1="495.3" x2="418" y2="495.3" stroke="#222" stroke-width="1"/>
<text x="389" y="492.3" font-size="8.92" text-anchor="middle" font-weight="normal" fill="#2b3142">90</text>
<text x="392" y="504.3" font-size="8.92" text-anchor="middle" font-weight="normal" fill="#2b3142">150</text>
<text x="423" y="495.3" font-size="9.2" text-anchor="middle" font-weight="normal" fill="#2b3142" transform="rotate(-90 423 495.3)">pm 90</text>
<circle cx="373" cy="543" r="8.2" fill="#fff" fill-opacity="0.35" stroke="#555" stroke-width="0.9"/>
<text x="375.8" y="543" font-size="8.2" text-anchor="middle" font-weight="normal" fill="#1e1e1e" transform="rotate(-90 375.8 543)">ÚM</text>
<line x1="380.6" y1="543" x2="418" y2="543" stroke="#222" stroke-width="1"/>
<text x="389" y="540" font-size="8.92" text-anchor="middle" font-weight="normal" fill="#2b3142">90</text>
<text x="392" y="552" font-size="8.92" text-anchor="middle" font-weight="normal" fill="#2b3142">150</text>
<text x="423" y="543" font-size="9.2" text-anchor="middle" font-weight="normal" fill="#2b3142" transform="rotate(-90 423 543)">pm 90</text>
<circle cx="318" cy="644.8" r="8.2" fill="#fff" fill-opacity="0.35" stroke="#555" stroke-width="0.9"/>
<text x="320.8" y="644.8" font-size="8.2" text-anchor="middle" font-weight="normal" fill="#1e1e1e" transform="rotate(-90 320.8 644.8)">ÚM</text>
<line x1="325.6" y1="644.8" x2="364" y2="644.8" stroke="#222" stroke-width="1"/>
<text x="335" y="641.5" font-size="8.92" text-anchor="middle" font-weight="normal" fill="#2b3142">120</text>
<text x="335" y="654" font-size="8.92" text-anchor="middle" font-weight="normal" fill="#2b3142">150</text>
<text x="368" y="645" font-size="9.2" text-anchor="middle" font-weight="normal" fill="#2b3142" transform="rotate(-90 368 645)">pm 90</text>
<circle cx="370.8" cy="727.5" r="8.2" fill="#fff" fill-opacity="0.35" stroke="#555" stroke-width="0.9"/>
<text x="373.6" y="727.5" font-size="8.2" text-anchor="middle" font-weight="normal" fill="#1e1e1e" transform="rotate(-90 373.6 727.5)">ÚM</text>
<line x1="378.4" y1="727.5" x2="420" y2="727.5" stroke="#222" stroke-width="1"/>
<text x="387" y="724.5" font-size="8.92" text-anchor="middle" font-weight="normal" fill="#2b3142">60</text>
<text x="387" y="737.5" font-size="8.92" text-anchor="middle" font-weight="normal" fill="#2b3142">60</text>
<text x="420.5" y="734" font-size="7.5" text-anchor="middle" font-weight="normal" fill="#2b3142" transform="rotate(-90 420.5 734)">pm 1,80</text>
<circle cx="370.8" cy="775.5" r="8.2" fill="#fff" fill-opacity="0.35" stroke="#555" stroke-width="0.9"/>
<text x="373.6" y="775.5" font-size="8.2" text-anchor="middle" font-weight="normal" fill="#1e1e1e" transform="rotate(-90 373.6 775.5)">ÚM</text>
<line x1="378.4" y1="775.5" x2="420" y2="775.5" stroke="#222" stroke-width="1"/>
<text x="391" y="772.5" font-size="8.92" text-anchor="middle" font-weight="normal" fill="#2b3142">100</text>
<text x="391" y="786" font-size="8.92" text-anchor="middle" font-weight="normal" fill="#2b3142">240</text>
<circle cx="708.9" cy="566.3" r="8.2" fill="#fff" fill-opacity="0.35" stroke="#555" stroke-width="0.9"/>
<text x="711.7" y="566.3" font-size="8.2" text-anchor="middle" font-weight="normal" fill="#1e1e1e" transform="rotate(-90 711.7 566.3)">ÚM</text>
<line x1="668" y1="566.3" x2="701.3" y2="566.3" stroke="#222" stroke-width="1"/>
<text x="691.5" y="563.1" font-size="8.4" text-anchor="middle" font-weight="normal" fill="#2b3142">60</text>
<text x="691.5" y="576.1" font-size="8.4" text-anchor="middle" font-weight="normal" fill="#2b3142">60</text>
<text x="664" y="566.3" font-size="8" text-anchor="middle" font-weight="normal" fill="#2b3142" transform="rotate(-90 664 566.3)">pm 1,80</text>
<circle cx="708.9" cy="625" r="8.2" fill="#fff" fill-opacity="0.35" stroke="#555" stroke-width="0.9"/>
<text x="711.7" y="625" font-size="8.2" text-anchor="middle" font-weight="normal" fill="#1e1e1e" transform="rotate(-90 711.7 625)">ÚM</text>
<line x1="668" y1="625" x2="701.3" y2="625" stroke="#222" stroke-width="1"/>
<text x="691.5" y="621.8" font-size="8.4" text-anchor="middle" font-weight="normal" fill="#2b3142">60</text>
<text x="691.5" y="634.8" font-size="8.4" text-anchor="middle" font-weight="normal" fill="#2b3142">60</text>
<text x="664" y="625" font-size="8" text-anchor="middle" font-weight="normal" fill="#2b3142" transform="rotate(-90 664 625)">pm 1,80</text>
<circle cx="708.9" cy="691" r="8.2" fill="#fff" fill-opacity="0.35" stroke="#555" stroke-width="0.9"/>
<text x="711.7" y="691" font-size="8.2" text-anchor="middle" font-weight="normal" fill="#1e1e1e" transform="rotate(-90 711.7 691)">ÚM</text>
<line x1="668" y1="691" x2="701.3" y2="691" stroke="#222" stroke-width="1"/>
<text x="691.5" y="687.8" font-size="8.4" text-anchor="middle" font-weight="normal" fill="#2b3142">60</text>
<text x="691.5" y="700.8" font-size="8.4" text-anchor="middle" font-weight="normal" fill="#2b3142">60</text>
<text x="664" y="691" font-size="8" text-anchor="middle" font-weight="normal" fill="#2b3142" transform="rotate(-90 664 691)">pm 1,80</text>
<circle cx="708.9" cy="769.4" r="8.2" fill="#fff" fill-opacity="0.35" stroke="#555" stroke-width="0.9"/>
<text x="711.7" y="769.4" font-size="8.2" text-anchor="middle" font-weight="normal" fill="#1e1e1e" transform="rotate(-90 711.7 769.4)">ÚM</text>
<line x1="668" y1="769.4" x2="701.3" y2="769.4" stroke="#222" stroke-width="1"/>
<text x="691.5" y="766.2" font-size="8.4" text-anchor="middle" font-weight="normal" fill="#2b3142">60</text>
<text x="691.5" y="779.2" font-size="8.4" text-anchor="middle" font-weight="normal" fill="#2b3142">60</text>
<text x="664" y="769.4" font-size="8" text-anchor="middle" font-weight="normal" fill="#2b3142" transform="rotate(-90 664 769.4)">pm 1,80</text>
<line x1="531" y1="509.3" x2="570.5" y2="509.3" stroke="#222" stroke-width="1"/>
<text x="556.5" y="505.8" font-size="8.92" text-anchor="middle" font-weight="normal" fill="#2b3142">90</text>
<text x="554.5" y="518.5" font-size="8.92" text-anchor="middle" font-weight="normal" fill="#2b3142">210</text>
<circle cx="579" cy="509" r="8" fill="#fff" fill-opacity="0.35" stroke="#555" stroke-width="0.9"/>
<text x="581.8" y="509" font-size="8.2" text-anchor="middle" font-weight="normal" fill="#1e1e1e" transform="rotate(-90 581.8 509)">Új</text>
<text x="588" y="548.8" font-size="8.92" text-anchor="middle" font-weight="normal" fill="#2b3142" transform="rotate(-90 588 548.8)">75</text>
<text x="602.6" y="547" font-size="8.92" text-anchor="middle" font-weight="normal" fill="#2b3142" transform="rotate(-90 602.6 547)">210</text>
<line x1="591.9" y1="531" x2="591.9" y2="556.5" stroke="#333" stroke-width="1.1"/>
<circle cx="591.9" cy="565" r="8.3" fill="#fff" fill-opacity="0.35" stroke="#555" stroke-width="0.9"/>
<text x="591.9" y="567.8" font-size="8.2" text-anchor="middle" font-weight="normal" fill="#1e1e1e">Új</text>
<text x="621" y="611" font-size="8.92" text-anchor="middle" font-weight="normal" fill="#2b3142" transform="rotate(-90 621 611)">75</text>
<text x="635.5" y="609" font-size="8.92" text-anchor="middle" font-weight="normal" fill="#2b3142" transform="rotate(-90 635.5 609)">210</text>
<line x1="623.9" y1="592" x2="623.9" y2="617.5" stroke="#333" stroke-width="1.1"/>
<circle cx="624.8" cy="625.6" r="8.3" fill="#fff" fill-opacity="0.35" stroke="#555" stroke-width="0.9"/>
<text x="624.8" y="628.4" font-size="8.2" text-anchor="middle" font-weight="normal" fill="#1e1e1e">Új</text>
<text x="557.6" y="733.3" font-size="8.92" text-anchor="middle" font-weight="normal" fill="#2b3142" transform="rotate(-90 557.6 733.3)">75</text>
<text x="572" y="736" font-size="8.92" text-anchor="middle" font-weight="normal" fill="#2b3142" transform="rotate(-90 572 736)">210</text>
<line x1="561.3" y1="725.8" x2="561.3" y2="752.5" stroke="#333" stroke-width="1.1"/>
<circle cx="560.8" cy="718.3" r="8.3" fill="#fff" fill-opacity="0.35" stroke="#555" stroke-width="0.9"/>
<text x="560.8" y="721.1" font-size="8.2" text-anchor="middle" font-weight="normal" fill="#1e1e1e">Új</text>
<line x1="579.2" y1="778.1" x2="611.8" y2="778.1" stroke="#333" stroke-width="1.1"/>
<text x="597.6" y="774.4" font-size="8.92" text-anchor="middle" font-weight="normal" fill="#2b3142">90</text>
<text x="595" y="787.7" font-size="8.92" text-anchor="middle" font-weight="normal" fill="#2b3142">210</text>
<circle cx="620" cy="777.6" r="8.3" fill="#fff" fill-opacity="0.35" stroke="#555" stroke-width="0.9"/>
<text x="622.8" y="777.6" font-size="8.2" text-anchor="middle" font-weight="normal" fill="#1e1e1e" transform="rotate(-90 622.8 777.6)">Új</text>
<text x="513" y="812" font-size="8.92" text-anchor="middle" font-weight="normal" fill="#2b3142" transform="rotate(-90 513 812)">90</text>
<text x="526.8" y="809.3" font-size="8.92" text-anchor="middle" font-weight="normal" fill="#2b3142" transform="rotate(-90 526.8 809.3)">210</text>
<line x1="516.1" y1="793" x2="516.1" y2="825" stroke="#333" stroke-width="1.1"/>
<circle cx="516.1" cy="833.9" r="8.3" fill="#fff" fill-opacity="0.35" stroke="#555" stroke-width="0.9"/>
<text x="516.1" y="836.7" font-size="8.2" text-anchor="middle" font-weight="normal" fill="#1e1e1e">Új</text>
<text x="561" y="812" font-size="8.92" text-anchor="middle" font-weight="normal" fill="#2b3142" transform="rotate(-90 561 812)">90</text>
<text x="574.8" y="809.3" font-size="8.92" text-anchor="middle" font-weight="normal" fill="#2b3142" transform="rotate(-90 574.8 809.3)">210</text>
<line x1="563.6" y1="793" x2="563.6" y2="825" stroke="#333" stroke-width="1.1"/>
<circle cx="563.6" cy="833.9" r="8.3" fill="#fff" fill-opacity="0.35" stroke="#555" stroke-width="0.9"/>
<text x="563.6" y="836.7" font-size="8.2" text-anchor="middle" font-weight="normal" fill="#1e1e1e">Új</text>
<line x1="486" y1="723.9" x2="513.6" y2="723.9" stroke="#333" stroke-width="1.1"/>
<text x="504.6" y="720.9" font-size="8.92" text-anchor="middle" font-weight="normal" fill="#2b3142">75</text>
<text x="503" y="733.6" font-size="8.92" text-anchor="middle" font-weight="normal" fill="#2b3142">210</text>
<circle cx="521.8" cy="723.2" r="8" fill="#fff" fill-opacity="0.35" stroke="#555" stroke-width="0.9"/>
<text x="524.6" y="723.2" font-size="8.2" text-anchor="middle" font-weight="normal" fill="#1e1e1e" transform="rotate(-90 524.6 723.2)">Új</text>
<line x1="465.8" y1="776.2" x2="497" y2="776.2" stroke="#333" stroke-width="1.1"/>
<text x="481.5" y="771.7" font-size="8.92" text-anchor="middle" font-weight="normal" fill="#2b3142">100</text>
<text x="480.7" y="785.2" font-size="8.92" text-anchor="middle" font-weight="normal" fill="#2b3142">210</text>
<circle cx="453" cy="776.2" r="8" fill="#fff" fill-opacity="0.35" stroke="#555" stroke-width="0.9"/>
<text x="455.8" y="776.2" font-size="8.2" text-anchor="middle" font-weight="normal" fill="#1e1e1e" transform="rotate(-90 455.8 776.2)">Új</text>
<text x="425.5" y="762.8" font-size="8.92" text-anchor="middle" font-weight="normal" fill="#2b3142" transform="rotate(-90 425.5 762.8)">75</text>
<text x="439" y="758.3" font-size="8.92" text-anchor="middle" font-weight="normal" fill="#2b3142" transform="rotate(-90 439 758.3)">210</text>
<line x1="428.4" y1="745.3" x2="428.4" y2="771.4" stroke="#333" stroke-width="1.1"/>
<circle cx="427.7" cy="778.5" r="8" fill="#fff" fill-opacity="0.35" stroke="#555" stroke-width="0.9"/>
<text x="427.7" y="781.3" font-size="8.2" text-anchor="middle" font-weight="normal" fill="#1e1e1e">Új</text>
<line x1="514" y1="773" x2="537" y2="773" stroke="#222" stroke-width="1"/>
<text x="524.5" y="769.5" font-size="8.92" text-anchor="middle" font-weight="normal" fill="#2b3142">140</text>
<text x="525" y="784" font-size="8.92" text-anchor="middle" font-weight="normal" fill="#2b3142">240</text>
<text x="511" y="693" font-size="8.92" text-anchor="middle" font-weight="normal" fill="#2b3142" transform="rotate(-90 511 693)">120</text>
<text x="525" y="693" font-size="8.92" text-anchor="middle" font-weight="normal" fill="#2b3142" transform="rotate(-90 525 693)">240</text>
<line x1="516" y1="678" x2="516" y2="708" stroke="#222" stroke-width="1"/>
<g transform="translate(375.9 399.5)"><line x1="-8" y1="0" x2="8" y2="0" stroke="#111" stroke-width="1"/><line x1="0" y1="-8" x2="0" y2="8" stroke="#111" stroke-width="1"/><circle r="4.4" fill="#111"/><circle cx="1.9" cy="-1.9" r="1.3" fill="#fff" fill-opacity="0.7"/><circle cx="-1.9" cy="1.9" r="1.3" fill="#fff" fill-opacity="0.7"/></g>
<text x="382.5" y="389.5" font-size="11.5" text-anchor="middle" font-weight="normal" fill="#2f3547">-0,45</text>
<g transform="translate(422.9 395.2)"><line x1="-8" y1="0" x2="8" y2="0" stroke="#111" stroke-width="1"/><line x1="0" y1="-8" x2="0" y2="8" stroke="#111" stroke-width="1"/><circle r="4.4" fill="#111"/><circle cx="1.9" cy="-1.9" r="1.3" fill="#fff" fill-opacity="0.7"/><circle cx="-1.9" cy="1.9" r="1.3" fill="#fff" fill-opacity="0.7"/></g>
<text x="432" y="399" font-size="11.5" text-anchor="start" font-weight="normal" fill="#2f3547">-0,01</text>
<g transform="translate(672 389.5)"><line x1="-8" y1="0" x2="8" y2="0" stroke="#111" stroke-width="1"/><line x1="0" y1="-8" x2="0" y2="8" stroke="#111" stroke-width="1"/><circle r="4.4" fill="#111"/><circle cx="1.9" cy="-1.9" r="1.3" fill="#fff" fill-opacity="0.7"/><circle cx="-1.9" cy="1.9" r="1.3" fill="#fff" fill-opacity="0.7"/></g>
<text x="667" y="375.5" font-size="11.5" text-anchor="middle" font-weight="normal" fill="#2f3547">-0,45</text>
<g transform="translate(487 583)"><line x1="-8" y1="0" x2="8" y2="0" stroke="#111" stroke-width="1"/><line x1="0" y1="-8" x2="0" y2="8" stroke="#111" stroke-width="1"/><circle r="4.4" fill="#111"/><circle cx="1.9" cy="-1.9" r="1.3" fill="#fff" fill-opacity="0.7"/><circle cx="-1.9" cy="1.9" r="1.3" fill="#fff" fill-opacity="0.7"/></g>
<text x="508.5" y="575.5" font-size="12.5" text-anchor="middle" font-weight="normal" fill="#2f3547">±0,00</text>
<g transform="translate(356.5 784.5)"><line x1="-8" y1="0" x2="8" y2="0" stroke="#111" stroke-width="1"/><line x1="0" y1="-8" x2="0" y2="8" stroke="#111" stroke-width="1"/><circle r="4.4" fill="#111"/><circle cx="1.9" cy="-1.9" r="1.3" fill="#fff" fill-opacity="0.7"/><circle cx="-1.9" cy="1.9" r="1.3" fill="#fff" fill-opacity="0.7"/></g>
<text x="344" y="778.5" font-size="11.5" text-anchor="middle" font-weight="normal" fill="#2f3547">-0,01</text>
<g transform="translate(341 847)"><line x1="-8" y1="0" x2="8" y2="0" stroke="#111" stroke-width="1"/><line x1="0" y1="-8" x2="0" y2="8" stroke="#111" stroke-width="1"/><circle r="4.4" fill="#111"/><circle cx="1.9" cy="-1.9" r="1.3" fill="#fff" fill-opacity="0.7"/><circle cx="-1.9" cy="1.9" r="1.3" fill="#fff" fill-opacity="0.7"/></g>
<text x="361.5" y="839.5" font-size="11.5" text-anchor="middle" font-weight="normal" fill="#2f3547">-0,45</text>
<g transform="translate(672 922)"><line x1="-8" y1="0" x2="8" y2="0" stroke="#111" stroke-width="1"/><line x1="0" y1="-8" x2="0" y2="8" stroke="#111" stroke-width="1"/><circle r="4.4" fill="#111"/><circle cx="1.9" cy="-1.9" r="1.3" fill="#fff" fill-opacity="0.7"/><circle cx="-1.9" cy="1.9" r="1.3" fill="#fff" fill-opacity="0.7"/></g>
<text x="666" y="945.5" font-size="11.5" text-anchor="middle" font-weight="normal" fill="#2f3547">-0,45</text>
<line x1="482.7" y1="262" x2="482.7" y2="330" stroke="#5ab4e6" stroke-width="1"/>
<path d="M482.7 263 L491 269.5 L482.7 276 Z" fill="#fff" stroke="#5ab4e6" stroke-width="1.4"/>
<text x="491.5" y="256" font-size="10" text-anchor="middle" font-weight="normal" fill="#5ab4e6" transform="rotate(-90 491.5 256)">B</text>
<line x1="482" y1="904" x2="482" y2="962" stroke="#5ab4e6" stroke-width="1"/>
<path d="M482 949 L490 955.5 L482 962 Z" fill="#fff" stroke="#5ab4e6" stroke-width="1.4"/>
<text x="492" y="968" font-size="10" text-anchor="middle" font-weight="normal" fill="#5ab4e6" transform="rotate(-90 492 968)">B</text>
<line x1="295" y1="631.5" x2="362" y2="631.5" stroke="#5ab4e6" stroke-width="1"/>
<path d="M300.5 631.5 L310.5 631.5 L305.5 639.5 Z" fill="#fff" stroke="#5ab4e6" stroke-width="1.4"/>
<text x="292.5" y="642.5" font-size="11" text-anchor="middle" font-weight="normal" fill="#5ab4e6">A</text>
<line x1="645" y1="631.5" x2="708" y2="631.5" stroke="#5ab4e6" stroke-width="1"/>
<path d="M697 632 L709 632 L703 641 Z" fill="#fff" stroke="#5ab4e6" stroke-width="1.4"/>
<text x="717" y="642.5" font-size="11" text-anchor="middle" font-weight="normal" fill="#5ab4e6">A</text>
<line x1="344.6" y1="178.3" x2="681.5" y2="178.3" stroke="#1a1a1a" stroke-width="1.15"/>
<line x1="346.6" y1="174.3" x2="346.6" y2="182.8" stroke="#1a1a1a" stroke-width="1.1"/>
<line x1="344.1" y1="179.3" x2="349.1" y2="175.3" stroke="#1a1a1a" stroke-width="1.1"/>
<line x1="680.5" y1="174.3" x2="680.5" y2="182.8" stroke="#1a1a1a" stroke-width="1.1"/>
<line x1="678" y1="179.3" x2="683" y2="175.3" stroke="#1a1a1a" stroke-width="1.1"/>
<text x="513.5" y="176.6" font-size="11" text-anchor="middle" font-weight="normal" fill="#1c1c1c">9,80</text>
<line x1="344.6" y1="195.4" x2="681.5" y2="195.4" stroke="#1a1a1a" stroke-width="1.15"/>
<line x1="346.6" y1="191.4" x2="346.6" y2="199.9" stroke="#1a1a1a" stroke-width="1.1"/>
<line x1="344.1" y1="196.4" x2="349.1" y2="192.4" stroke="#1a1a1a" stroke-width="1.1"/>
<line x1="399.3" y1="191.4" x2="399.3" y2="199.9" stroke="#1a1a1a" stroke-width="1.1"/>
<line x1="396.8" y1="196.4" x2="401.8" y2="192.4" stroke="#1a1a1a" stroke-width="1.1"/>
<line x1="533" y1="191.4" x2="533" y2="199.9" stroke="#1a1a1a" stroke-width="1.1"/>
<line x1="530.5" y1="196.4" x2="535.5" y2="192.4" stroke="#1a1a1a" stroke-width="1.1"/>
<line x1="680.5" y1="191.4" x2="680.5" y2="199.9" stroke="#1a1a1a" stroke-width="1.1"/>
<line x1="678" y1="196.4" x2="683" y2="192.4" stroke="#1a1a1a" stroke-width="1.1"/>
<text x="373" y="193.6" font-size="11" text-anchor="middle" font-weight="normal" fill="#1c1c1c">1,55</text>
<text x="466" y="193.6" font-size="11" text-anchor="middle" font-weight="normal" fill="#1c1c1c">3,90</text>
<text x="607" y="193.6" font-size="11" text-anchor="middle" font-weight="normal" fill="#1c1c1c">4,35</text>
<line x1="344.6" y1="212.4" x2="681.5" y2="212.4" stroke="#1a1a1a" stroke-width="1.15"/>
<line x1="346.6" y1="208.4" x2="346.6" y2="216.9" stroke="#1a1a1a" stroke-width="1.1"/>
<line x1="344.1" y1="213.4" x2="349.1" y2="209.4" stroke="#1a1a1a" stroke-width="1.1"/>
<line x1="399.3" y1="208.4" x2="399.3" y2="216.9" stroke="#1a1a1a" stroke-width="1.1"/>
<line x1="396.8" y1="213.4" x2="401.8" y2="209.4" stroke="#1a1a1a" stroke-width="1.1"/>
<line x1="412.4" y1="208.4" x2="412.4" y2="216.9" stroke="#1a1a1a" stroke-width="1.1"/>
<line x1="409.9" y1="213.4" x2="414.9" y2="209.4" stroke="#1a1a1a" stroke-width="1.1"/>
<line x1="535.5" y1="208.4" x2="535.5" y2="216.9" stroke="#1a1a1a" stroke-width="1.1"/>
<line x1="533" y1="213.4" x2="538" y2="209.4" stroke="#1a1a1a" stroke-width="1.1"/>
<line x1="545.7" y1="208.4" x2="545.7" y2="216.9" stroke="#1a1a1a" stroke-width="1.1"/>
<line x1="543.2" y1="213.4" x2="548.2" y2="209.4" stroke="#1a1a1a" stroke-width="1.1"/>
<line x1="668.5" y1="208.4" x2="668.5" y2="216.9" stroke="#1a1a1a" stroke-width="1.1"/>
<line x1="666" y1="213.4" x2="671" y2="209.4" stroke="#1a1a1a" stroke-width="1.1"/>
<line x1="680.5" y1="208.4" x2="680.5" y2="216.9" stroke="#1a1a1a" stroke-width="1.1"/>
<line x1="678" y1="213.4" x2="683" y2="209.4" stroke="#1a1a1a" stroke-width="1.1"/>
<text x="364" y="210.6" font-size="11" text-anchor="middle" font-weight="normal" fill="#1c1c1c">1,55</text>
<text x="390" y="210.6" font-size="11" text-anchor="middle" font-weight="normal" fill="#1c1c1c">37<tspan dy="-4" font-size="6.8">5</tspan></text>
<text x="467" y="210.6" font-size="11" text-anchor="middle" font-weight="normal" fill="#1c1c1c">3,60</text>
<text x="525" y="210.6" font-size="11" text-anchor="middle" font-weight="normal" fill="#1c1c1c">30</text>
<text x="597" y="210.6" font-size="11" text-anchor="middle" font-weight="normal" fill="#1c1c1c">3,60</text>
<text x="657" y="210.6" font-size="11" text-anchor="middle" font-weight="normal" fill="#1c1c1c">37<tspan dy="-4" font-size="6.8">5</tspan></text>
<line x1="344.6" y1="229.7" x2="681.5" y2="229.7" stroke="#1a1a1a" stroke-width="1.15"/>
<line x1="346.6" y1="225.7" x2="346.6" y2="234.2" stroke="#1a1a1a" stroke-width="1.1"/>
<line x1="344.1" y1="230.7" x2="349.1" y2="226.7" stroke="#1a1a1a" stroke-width="1.1"/>
<line x1="359.3" y1="225.7" x2="359.3" y2="234.2" stroke="#1a1a1a" stroke-width="1.1"/>
<line x1="356.8" y1="230.7" x2="361.8" y2="226.7" stroke="#1a1a1a" stroke-width="1.1"/>
<line x1="535.5" y1="225.7" x2="535.5" y2="234.2" stroke="#1a1a1a" stroke-width="1.1"/>
<line x1="533" y1="230.7" x2="538" y2="226.7" stroke="#1a1a1a" stroke-width="1.1"/>
<line x1="545.7" y1="225.7" x2="545.7" y2="234.2" stroke="#1a1a1a" stroke-width="1.1"/>
<line x1="543.2" y1="230.7" x2="548.2" y2="226.7" stroke="#1a1a1a" stroke-width="1.1"/>
<line x1="668.5" y1="225.7" x2="668.5" y2="234.2" stroke="#1a1a1a" stroke-width="1.1"/>
<line x1="666" y1="230.7" x2="671" y2="226.7" stroke="#1a1a1a" stroke-width="1.1"/>
<line x1="680.5" y1="225.7" x2="680.5" y2="234.2" stroke="#1a1a1a" stroke-width="1.1"/>
<line x1="678" y1="230.7" x2="683" y2="226.7" stroke="#1a1a1a" stroke-width="1.1"/>
<text x="335" y="227.6" font-size="11" text-anchor="middle" font-weight="normal" fill="#1c1c1c">37<tspan dy="-4" font-size="6.8">5</tspan></text>
<text x="440.5" y="227.6" font-size="11" text-anchor="middle" font-weight="normal" fill="#1c1c1c">5,15</text>
<text x="525" y="227.6" font-size="11" text-anchor="middle" font-weight="normal" fill="#1c1c1c">30</text>
<text x="597" y="227.6" font-size="11" text-anchor="middle" font-weight="normal" fill="#1c1c1c">3,60</text>
<text x="657" y="227.6" font-size="11" text-anchor="middle" font-weight="normal" fill="#1c1c1c">37<tspan dy="-4" font-size="6.8">5</tspan></text>
<line x1="344.6" y1="245.7" x2="681.5" y2="245.7" stroke="#1a1a1a" stroke-width="1.15"/>
<line x1="346.6" y1="241.7" x2="346.6" y2="250.2" stroke="#1a1a1a" stroke-width="1.1"/>
<line x1="344.1" y1="246.7" x2="349.1" y2="242.7" stroke="#1a1a1a" stroke-width="1.1"/>
<line x1="399.3" y1="241.7" x2="399.3" y2="250.2" stroke="#1a1a1a" stroke-width="1.1"/>
<line x1="396.8" y1="246.7" x2="401.8" y2="242.7" stroke="#1a1a1a" stroke-width="1.1"/>
<line x1="459.9" y1="241.7" x2="459.9" y2="250.2" stroke="#1a1a1a" stroke-width="1.1"/>
<line x1="457.4" y1="246.7" x2="462.4" y2="242.7" stroke="#1a1a1a" stroke-width="1.1"/>
<line x1="505.6" y1="241.7" x2="505.6" y2="250.2" stroke="#1a1a1a" stroke-width="1.1"/>
<line x1="503.1" y1="246.7" x2="508.1" y2="242.7" stroke="#1a1a1a" stroke-width="1.1"/>
<line x1="533" y1="241.7" x2="533" y2="250.2" stroke="#1a1a1a" stroke-width="1.1"/>
<line x1="530.5" y1="246.7" x2="535.5" y2="242.7" stroke="#1a1a1a" stroke-width="1.1"/>
<line x1="607.1" y1="241.7" x2="607.1" y2="250.2" stroke="#1a1a1a" stroke-width="1.1"/>
<line x1="604.6" y1="246.7" x2="609.6" y2="242.7" stroke="#1a1a1a" stroke-width="1.1"/>
<line x1="680.5" y1="241.7" x2="680.5" y2="250.2" stroke="#1a1a1a" stroke-width="1.1"/>
<line x1="678" y1="246.7" x2="683" y2="242.7" stroke="#1a1a1a" stroke-width="1.1"/>
<text x="373" y="244.1" font-size="11" text-anchor="middle" font-weight="normal" fill="#1c1c1c">1,55</text>
<text x="427" y="244.1" font-size="11" text-anchor="middle" font-weight="normal" fill="#1c1c1c">1,77<tspan dy="-4" font-size="6.8">5</tspan></text>
<text x="482.7" y="244.1" font-size="11" text-anchor="middle" font-weight="normal" fill="#1c1c1c">1,35</text>
<text x="518" y="244.1" font-size="11" text-anchor="middle" font-weight="normal" fill="#1c1c1c">77<tspan dy="-4" font-size="6.8">5</tspan></text>
<text x="568" y="244.1" font-size="11" text-anchor="middle" font-weight="normal" fill="#1c1c1c">2,17<tspan dy="-4" font-size="6.8">5</tspan></text>
<text x="642" y="244.1" font-size="11" text-anchor="middle" font-weight="normal" fill="#1c1c1c">2,17<tspan dy="-4" font-size="6.8">5</tspan></text>
<line x1="343.3" y1="978.9" x2="681.5" y2="978.9" stroke="#1a1a1a" stroke-width="1.15"/>
<line x1="345.3" y1="974.9" x2="345.3" y2="983.4" stroke="#1a1a1a" stroke-width="1.1"/>
<line x1="342.8" y1="979.9" x2="347.8" y2="975.9" stroke="#1a1a1a" stroke-width="1.1"/>
<line x1="399.5" y1="974.9" x2="399.5" y2="983.4" stroke="#1a1a1a" stroke-width="1.1"/>
<line x1="397" y1="979.9" x2="402" y2="975.9" stroke="#1a1a1a" stroke-width="1.1"/>
<line x1="474" y1="974.9" x2="474" y2="983.4" stroke="#1a1a1a" stroke-width="1.1"/>
<line x1="471.5" y1="979.9" x2="476.5" y2="975.9" stroke="#1a1a1a" stroke-width="1.1"/>
<line x1="607.1" y1="974.9" x2="607.1" y2="983.4" stroke="#1a1a1a" stroke-width="1.1"/>
<line x1="604.6" y1="979.9" x2="609.6" y2="975.9" stroke="#1a1a1a" stroke-width="1.1"/>
<line x1="680.5" y1="974.9" x2="680.5" y2="983.4" stroke="#1a1a1a" stroke-width="1.1"/>
<line x1="678" y1="979.9" x2="683" y2="975.9" stroke="#1a1a1a" stroke-width="1.1"/>
<text x="373" y="977.1" font-size="11" text-anchor="middle" font-weight="normal" fill="#1c1c1c">1,55</text>
<text x="436" y="977.1" font-size="11" text-anchor="middle" font-weight="normal" fill="#1c1c1c">2,17<tspan dy="-4" font-size="6.8">5</tspan></text>
<text x="540" y="977.1" font-size="11" text-anchor="middle" font-weight="normal" fill="#1c1c1c">3,90</text>
<text x="645" y="977.1" font-size="11" text-anchor="middle" font-weight="normal" fill="#1c1c1c">2,17<tspan dy="-4" font-size="6.8">5</tspan></text>
<text x="543" y="986.1" font-size="10" text-anchor="middle" font-weight="normal" fill="#1c1c1c">30</text>
<line x1="343.3" y1="996.5" x2="681.5" y2="996.5" stroke="#1a1a1a" stroke-width="1.15"/>
<line x1="345.3" y1="992.5" x2="345.3" y2="1001" stroke="#1a1a1a" stroke-width="1.1"/>
<line x1="342.8" y1="997.5" x2="347.8" y2="993.5" stroke="#1a1a1a" stroke-width="1.1"/>
<line x1="399.5" y1="992.5" x2="399.5" y2="1001" stroke="#1a1a1a" stroke-width="1.1"/>
<line x1="397" y1="997.5" x2="402" y2="993.5" stroke="#1a1a1a" stroke-width="1.1"/>
<line x1="412.3" y1="992.5" x2="412.3" y2="1001" stroke="#1a1a1a" stroke-width="1.1"/>
<line x1="409.8" y1="997.5" x2="414.8" y2="993.5" stroke="#1a1a1a" stroke-width="1.1"/>
<line x1="447.7" y1="992.5" x2="447.7" y2="1001" stroke="#1a1a1a" stroke-width="1.1"/>
<line x1="445.2" y1="997.5" x2="450.2" y2="993.5" stroke="#1a1a1a" stroke-width="1.1"/>
<line x1="450.5" y1="992.5" x2="450.5" y2="1001" stroke="#1a1a1a" stroke-width="1.1"/>
<line x1="448" y1="997.5" x2="453" y2="993.5" stroke="#1a1a1a" stroke-width="1.1"/>
<line x1="491.5" y1="992.5" x2="491.5" y2="1001" stroke="#1a1a1a" stroke-width="1.1"/>
<line x1="489" y1="997.5" x2="494" y2="993.5" stroke="#1a1a1a" stroke-width="1.1"/>
<line x1="494.5" y1="992.5" x2="494.5" y2="1001" stroke="#1a1a1a" stroke-width="1.1"/>
<line x1="492" y1="997.5" x2="497" y2="993.5" stroke="#1a1a1a" stroke-width="1.1"/>
<line x1="535.5" y1="992.5" x2="535.5" y2="1001" stroke="#1a1a1a" stroke-width="1.1"/>
<line x1="533" y1="997.5" x2="538" y2="993.5" stroke="#1a1a1a" stroke-width="1.1"/>
<line x1="545.7" y1="992.5" x2="545.7" y2="1001" stroke="#1a1a1a" stroke-width="1.1"/>
<line x1="543.2" y1="997.5" x2="548.2" y2="993.5" stroke="#1a1a1a" stroke-width="1.1"/>
<line x1="583.1" y1="992.5" x2="583.1" y2="1001" stroke="#1a1a1a" stroke-width="1.1"/>
<line x1="580.6" y1="997.5" x2="585.6" y2="993.5" stroke="#1a1a1a" stroke-width="1.1"/>
<line x1="586.5" y1="992.5" x2="586.5" y2="1001" stroke="#1a1a1a" stroke-width="1.1"/>
<line x1="584" y1="997.5" x2="589" y2="993.5" stroke="#1a1a1a" stroke-width="1.1"/>
<line x1="668.5" y1="992.5" x2="668.5" y2="1001" stroke="#1a1a1a" stroke-width="1.1"/>
<line x1="666" y1="997.5" x2="671" y2="993.5" stroke="#1a1a1a" stroke-width="1.1"/>
<line x1="680.5" y1="992.5" x2="680.5" y2="1001" stroke="#1a1a1a" stroke-width="1.1"/>
<line x1="678" y1="997.5" x2="683" y2="993.5" stroke="#1a1a1a" stroke-width="1.1"/>
<text x="367.5" y="994.6" font-size="11" text-anchor="middle" font-weight="normal" fill="#1c1c1c">1,55</text>
<text x="388" y="994.6" font-size="11" text-anchor="middle" font-weight="normal" fill="#1c1c1c">37<tspan dy="-4" font-size="6.8">5</tspan></text>
<text x="428" y="994.6" font-size="11" text-anchor="middle" font-weight="normal" fill="#1c1c1c">1,00</text>
<text x="448.5" y="988.1" font-size="10" text-anchor="middle" font-weight="normal" fill="#1c1c1c">10</text>
<text x="471" y="994.6" font-size="11" text-anchor="middle" font-weight="normal" fill="#1c1c1c">1,20</text>
<text x="493" y="983.1" font-size="10" text-anchor="middle" font-weight="normal" fill="#1c1c1c">10</text>
<text x="514" y="994.6" font-size="11" text-anchor="middle" font-weight="normal" fill="#1c1c1c">1,20</text>
<text x="562.5" y="994.6" font-size="11" text-anchor="middle" font-weight="normal" fill="#1c1c1c">1,10</text>
<text x="594" y="994.6" font-size="10" text-anchor="middle" font-weight="normal" fill="#1c1c1c">10</text>
<text x="626" y="994.6" font-size="11" text-anchor="middle" font-weight="normal" fill="#1c1c1c">2,40</text>
<text x="657" y="994.6" font-size="11" text-anchor="middle" font-weight="normal" fill="#1c1c1c">37<tspan dy="-4" font-size="6.8">5</tspan></text>
<line x1="343.3" y1="1013.1" x2="681.5" y2="1013.1" stroke="#1a1a1a" stroke-width="1.15"/>
<line x1="345.3" y1="1009.1" x2="345.3" y2="1017.6" stroke="#1a1a1a" stroke-width="1.1"/>
<line x1="342.8" y1="1014.1" x2="347.8" y2="1010.1" stroke="#1a1a1a" stroke-width="1.1"/>
<line x1="359.5" y1="1009.1" x2="359.5" y2="1017.6" stroke="#1a1a1a" stroke-width="1.1"/>
<line x1="357" y1="1014.1" x2="362" y2="1010.1" stroke="#1a1a1a" stroke-width="1.1"/>
<line x1="399.5" y1="1009.1" x2="399.5" y2="1017.6" stroke="#1a1a1a" stroke-width="1.1"/>
<line x1="397" y1="1014.1" x2="402" y2="1010.1" stroke="#1a1a1a" stroke-width="1.1"/>
<line x1="412.3" y1="1009.1" x2="412.3" y2="1017.6" stroke="#1a1a1a" stroke-width="1.1"/>
<line x1="409.8" y1="1014.1" x2="414.8" y2="1010.1" stroke="#1a1a1a" stroke-width="1.1"/>
<line x1="535.5" y1="1009.1" x2="535.5" y2="1017.6" stroke="#1a1a1a" stroke-width="1.1"/>
<line x1="533" y1="1014.1" x2="538" y2="1010.1" stroke="#1a1a1a" stroke-width="1.1"/>
<line x1="545.7" y1="1009.1" x2="545.7" y2="1017.6" stroke="#1a1a1a" stroke-width="1.1"/>
<line x1="543.2" y1="1014.1" x2="548.2" y2="1010.1" stroke="#1a1a1a" stroke-width="1.1"/>
<line x1="668.5" y1="1009.1" x2="668.5" y2="1017.6" stroke="#1a1a1a" stroke-width="1.1"/>
<line x1="666" y1="1014.1" x2="671" y2="1010.1" stroke="#1a1a1a" stroke-width="1.1"/>
<line x1="680.5" y1="1009.1" x2="680.5" y2="1017.6" stroke="#1a1a1a" stroke-width="1.1"/>
<line x1="678" y1="1014.1" x2="683" y2="1010.1" stroke="#1a1a1a" stroke-width="1.1"/>
<text x="333" y="1011.1" font-size="11" text-anchor="middle" font-weight="normal" fill="#1c1c1c">37<tspan dy="-4" font-size="6.8">5</tspan></text>
<text x="380" y="1011.1" font-size="11" text-anchor="middle" font-weight="normal" fill="#1c1c1c">1,17<tspan dy="-4" font-size="6.8">5</tspan></text>
<text x="420" y="1011.1" font-size="11" text-anchor="middle" font-weight="normal" fill="#1c1c1c">37<tspan dy="-4" font-size="6.8">5</tspan></text>
<text x="475" y="1011.1" font-size="11" text-anchor="middle" font-weight="normal" fill="#1c1c1c">3,60</text>
<text x="526" y="1011.1" font-size="11" text-anchor="middle" font-weight="normal" fill="#1c1c1c">30</text>
<text x="597" y="1011.1" font-size="11" text-anchor="middle" font-weight="normal" fill="#1c1c1c">3,60</text>
<text x="657" y="1011.1" font-size="11" text-anchor="middle" font-weight="normal" fill="#1c1c1c">37<tspan dy="-4" font-size="6.8">5</tspan></text>
<line x1="343.3" y1="1030.4" x2="681.5" y2="1030.4" stroke="#1a1a1a" stroke-width="1.15"/>
<line x1="345.3" y1="1026.4" x2="345.3" y2="1034.9" stroke="#1a1a1a" stroke-width="1.1"/>
<line x1="342.8" y1="1031.4" x2="347.8" y2="1027.4" stroke="#1a1a1a" stroke-width="1.1"/>
<line x1="399.5" y1="1026.4" x2="399.5" y2="1034.9" stroke="#1a1a1a" stroke-width="1.1"/>
<line x1="397" y1="1031.4" x2="402" y2="1027.4" stroke="#1a1a1a" stroke-width="1.1"/>
<line x1="680.5" y1="1026.4" x2="680.5" y2="1034.9" stroke="#1a1a1a" stroke-width="1.1"/>
<line x1="678" y1="1031.4" x2="683" y2="1027.4" stroke="#1a1a1a" stroke-width="1.1"/>
<text x="373" y="1028.6" font-size="11" text-anchor="middle" font-weight="normal" fill="#1c1c1c">1,55</text>
<text x="540" y="1028.6" font-size="11" text-anchor="middle" font-weight="normal" fill="#1c1c1c">8,25</text>
<line x1="169.8" y1="1047" x2="681.5" y2="1047" stroke="#1a1a1a" stroke-width="1.15"/>
<line x1="169.8" y1="1043" x2="169.8" y2="1051.5" stroke="#1a1a1a" stroke-width="1.1"/>
<line x1="167.3" y1="1048" x2="172.3" y2="1044" stroke="#1a1a1a" stroke-width="1.1"/>
<line x1="345.3" y1="1043" x2="345.3" y2="1051.5" stroke="#1a1a1a" stroke-width="1.1"/>
<line x1="342.8" y1="1048" x2="347.8" y2="1044" stroke="#1a1a1a" stroke-width="1.1"/>
<line x1="680.5" y1="1043" x2="680.5" y2="1051.5" stroke="#1a1a1a" stroke-width="1.1"/>
<line x1="678" y1="1048" x2="683" y2="1044" stroke="#1a1a1a" stroke-width="1.1"/>
<text x="258" y="1045.6" font-size="11" text-anchor="middle" font-weight="normal" fill="#1c1c1c">5,20</text>
<text x="513" y="1045.6" font-size="11" text-anchor="middle" font-weight="normal" fill="#1c1c1c">9,80</text>
<line x1="232" y1="305.3" x2="232" y2="912.7" stroke="#1a1a1a" stroke-width="1.15"/>
<line x1="227.5" y1="306.3" x2="236" y2="306.3" stroke="#1a1a1a" stroke-width="1.1"/>
<line x1="231" y1="308.8" x2="235" y2="303.8" stroke="#1a1a1a" stroke-width="1.1"/>
<line x1="227.5" y1="443.1" x2="236" y2="443.1" stroke="#1a1a1a" stroke-width="1.1"/>
<line x1="231" y1="445.6" x2="235" y2="440.6" stroke="#1a1a1a" stroke-width="1.1"/>
<line x1="227.5" y1="911.7" x2="236" y2="911.7" stroke="#1a1a1a" stroke-width="1.1"/>
<line x1="231" y1="914.2" x2="235" y2="909.2" stroke="#1a1a1a" stroke-width="1.1"/>
<text x="230.3" y="374.5" font-size="11" text-anchor="middle" font-weight="normal" fill="#1c1c1c" transform="rotate(-90 230.3 374.5)">4,00</text>
<text x="230.3" y="677" font-size="11" text-anchor="middle" font-weight="normal" fill="#1c1c1c" transform="rotate(-90 230.3 677)">13,75</text>
<line x1="248.8" y1="397.8" x2="248.8" y2="912.7" stroke="#1a1a1a" stroke-width="1.15"/>
<line x1="244.3" y1="398.8" x2="252.8" y2="398.8" stroke="#1a1a1a" stroke-width="1.1"/>
<line x1="247.8" y1="401.3" x2="251.8" y2="396.3" stroke="#1a1a1a" stroke-width="1.1"/>
<line x1="244.3" y1="443.1" x2="252.8" y2="443.1" stroke="#1a1a1a" stroke-width="1.1"/>
<line x1="247.8" y1="445.6" x2="251.8" y2="440.6" stroke="#1a1a1a" stroke-width="1.1"/>
<line x1="244.3" y1="709.8" x2="252.8" y2="709.8" stroke="#1a1a1a" stroke-width="1.1"/>
<line x1="247.8" y1="712.3" x2="251.8" y2="707.3" stroke="#1a1a1a" stroke-width="1.1"/>
<line x1="244.3" y1="911.7" x2="252.8" y2="911.7" stroke="#1a1a1a" stroke-width="1.1"/>
<line x1="247.8" y1="914.2" x2="251.8" y2="909.2" stroke="#1a1a1a" stroke-width="1.1"/>
<text x="246.8" y="421" font-size="11" text-anchor="middle" font-weight="normal" fill="#1c1c1c" transform="rotate(-90 246.8 421)">1,30</text>
<text x="246.8" y="577" font-size="11" text-anchor="middle" font-weight="normal" fill="#1c1c1c" transform="rotate(-90 246.8 577)">7,85</text>
<text x="246.8" y="811" font-size="11" text-anchor="middle" font-weight="normal" fill="#1c1c1c" transform="rotate(-90 246.8 811)">5,90</text>
<line x1="265.9" y1="397.8" x2="265.9" y2="912.7" stroke="#1a1a1a" stroke-width="1.15"/>
<line x1="261.4" y1="398.8" x2="269.9" y2="398.8" stroke="#1a1a1a" stroke-width="1.1"/>
<line x1="264.9" y1="401.3" x2="268.9" y2="396.3" stroke="#1a1a1a" stroke-width="1.1"/>
<line x1="261.4" y1="443.1" x2="269.9" y2="443.1" stroke="#1a1a1a" stroke-width="1.1"/>
<line x1="264.9" y1="445.6" x2="268.9" y2="440.6" stroke="#1a1a1a" stroke-width="1.1"/>
<line x1="261.4" y1="456" x2="269.9" y2="456" stroke="#1a1a1a" stroke-width="1.1"/>
<line x1="264.9" y1="458.5" x2="268.9" y2="453.5" stroke="#1a1a1a" stroke-width="1.1"/>
<line x1="261.4" y1="579.5" x2="269.9" y2="579.5" stroke="#1a1a1a" stroke-width="1.1"/>
<line x1="264.9" y1="582" x2="268.9" y2="577" stroke="#1a1a1a" stroke-width="1.1"/>
<line x1="261.4" y1="592" x2="269.9" y2="592" stroke="#1a1a1a" stroke-width="1.1"/>
<line x1="264.9" y1="594.5" x2="268.9" y2="589.5" stroke="#1a1a1a" stroke-width="1.1"/>
<line x1="261.4" y1="697.5" x2="269.9" y2="697.5" stroke="#1a1a1a" stroke-width="1.1"/>
<line x1="264.9" y1="700" x2="268.9" y2="695" stroke="#1a1a1a" stroke-width="1.1"/>
<line x1="261.4" y1="709.8" x2="269.9" y2="709.8" stroke="#1a1a1a" stroke-width="1.1"/>
<line x1="264.9" y1="712.3" x2="268.9" y2="707.3" stroke="#1a1a1a" stroke-width="1.1"/>
<line x1="261.4" y1="796.7" x2="269.9" y2="796.7" stroke="#1a1a1a" stroke-width="1.1"/>
<line x1="264.9" y1="799.2" x2="268.9" y2="794.2" stroke="#1a1a1a" stroke-width="1.1"/>
<line x1="261.4" y1="806.7" x2="269.9" y2="806.7" stroke="#1a1a1a" stroke-width="1.1"/>
<line x1="264.9" y1="809.2" x2="268.9" y2="804.2" stroke="#1a1a1a" stroke-width="1.1"/>
<line x1="261.4" y1="898.3" x2="269.9" y2="898.3" stroke="#1a1a1a" stroke-width="1.1"/>
<line x1="264.9" y1="900.8" x2="268.9" y2="895.8" stroke="#1a1a1a" stroke-width="1.1"/>
<line x1="261.4" y1="911.7" x2="269.9" y2="911.7" stroke="#1a1a1a" stroke-width="1.1"/>
<line x1="264.9" y1="914.2" x2="268.9" y2="909.2" stroke="#1a1a1a" stroke-width="1.1"/>
<text x="263.8" y="421" font-size="11" text-anchor="middle" font-weight="normal" fill="#1c1c1c" transform="rotate(-90 263.8 421)">1,30</text>
<text x="263.8" y="466" font-size="11" text-anchor="middle" font-weight="normal" fill="#1c1c1c" transform="rotate(-90 263.8 466)">37<tspan dy="-4" font-size="6.8">5</tspan></text>
<text x="263.8" y="525" font-size="11" text-anchor="middle" font-weight="normal" fill="#1c1c1c" transform="rotate(-90 263.8 525)">3,62<tspan dy="-4" font-size="6.8">5</tspan></text>
<text x="263.8" y="602.5" font-size="11" text-anchor="middle" font-weight="normal" fill="#1c1c1c" transform="rotate(-90 263.8 602.5)">37<tspan dy="-4" font-size="6.8">5</tspan></text>
<text x="263.8" y="653" font-size="11" text-anchor="middle" font-weight="normal" fill="#1c1c1c" transform="rotate(-90 263.8 653)">3,10</text>
<text x="263.8" y="720" font-size="11" text-anchor="middle" font-weight="normal" fill="#1c1c1c" transform="rotate(-90 263.8 720)">37<tspan dy="-4" font-size="6.8">5</tspan></text>
<text x="263.8" y="763" font-size="11" text-anchor="middle" font-weight="normal" fill="#1c1c1c" transform="rotate(-90 263.8 763)">2,52<tspan dy="-4" font-size="6.8">5</tspan></text>
<text x="263.8" y="814" font-size="11" text-anchor="middle" font-weight="normal" fill="#1c1c1c" transform="rotate(-90 263.8 814)">30</text>
<text x="263.8" y="860" font-size="11" text-anchor="middle" font-weight="normal" fill="#1c1c1c" transform="rotate(-90 263.8 860)">2,70</text>
<text x="263.8" y="922.5" font-size="11" text-anchor="middle" font-weight="normal" fill="#1c1c1c" transform="rotate(-90 263.8 922.5)">37<tspan dy="-4" font-size="6.8">5</tspan></text>
<line x1="282.7" y1="397.8" x2="282.7" y2="912.7" stroke="#1a1a1a" stroke-width="1.15"/>
<line x1="278.2" y1="398.8" x2="286.7" y2="398.8" stroke="#1a1a1a" stroke-width="1.1"/>
<line x1="281.7" y1="401.3" x2="285.7" y2="396.3" stroke="#1a1a1a" stroke-width="1.1"/>
<line x1="278.2" y1="443.1" x2="286.7" y2="443.1" stroke="#1a1a1a" stroke-width="1.1"/>
<line x1="281.7" y1="445.6" x2="285.7" y2="440.6" stroke="#1a1a1a" stroke-width="1.1"/>
<line x1="278.2" y1="456" x2="286.7" y2="456" stroke="#1a1a1a" stroke-width="1.1"/>
<line x1="281.7" y1="458.5" x2="285.7" y2="453.5" stroke="#1a1a1a" stroke-width="1.1"/>
<line x1="278.2" y1="579.5" x2="286.7" y2="579.5" stroke="#1a1a1a" stroke-width="1.1"/>
<line x1="281.7" y1="582" x2="285.7" y2="577" stroke="#1a1a1a" stroke-width="1.1"/>
<line x1="278.2" y1="697.5" x2="286.7" y2="697.5" stroke="#1a1a1a" stroke-width="1.1"/>
<line x1="281.7" y1="700" x2="285.7" y2="695" stroke="#1a1a1a" stroke-width="1.1"/>
<line x1="278.2" y1="707.6" x2="286.7" y2="707.6" stroke="#1a1a1a" stroke-width="1.1"/>
<line x1="281.7" y1="710.1" x2="285.7" y2="705.1" stroke="#1a1a1a" stroke-width="1.1"/>
<line x1="278.2" y1="748.3" x2="286.7" y2="748.3" stroke="#1a1a1a" stroke-width="1.1"/>
<line x1="281.7" y1="750.8" x2="285.7" y2="745.8" stroke="#1a1a1a" stroke-width="1.1"/>
<line x1="278.2" y1="751.5" x2="286.7" y2="751.5" stroke="#1a1a1a" stroke-width="1.1"/>
<line x1="281.7" y1="754" x2="285.7" y2="749" stroke="#1a1a1a" stroke-width="1.1"/>
<line x1="278.2" y1="898.3" x2="286.7" y2="898.3" stroke="#1a1a1a" stroke-width="1.1"/>
<line x1="281.7" y1="900.8" x2="285.7" y2="895.8" stroke="#1a1a1a" stroke-width="1.1"/>
<line x1="278.2" y1="911.7" x2="286.7" y2="911.7" stroke="#1a1a1a" stroke-width="1.1"/>
<line x1="281.7" y1="914.2" x2="285.7" y2="909.2" stroke="#1a1a1a" stroke-width="1.1"/>
<text x="280.8" y="421" font-size="11" text-anchor="middle" font-weight="normal" fill="#1c1c1c" transform="rotate(-90 280.8 421)">1,30</text>
<text x="280.8" y="466" font-size="11" text-anchor="middle" font-weight="normal" fill="#1c1c1c" transform="rotate(-90 280.8 466)">37<tspan dy="-4" font-size="6.8">5</tspan></text>
<text x="280.8" y="579.5" font-size="11" text-anchor="middle" font-weight="normal" fill="#1c1c1c" transform="rotate(-90 280.8 579.5)">7,10</text>
<text x="280.8" y="689" font-size="11" text-anchor="middle" font-weight="normal" fill="#1c1c1c" transform="rotate(-90 280.8 689)">30</text>
<text x="280.8" y="727" font-size="11" text-anchor="middle" font-weight="normal" fill="#1c1c1c" transform="rotate(-90 280.8 727)">1,20</text>
<text x="280.8" y="758" font-size="11" text-anchor="middle" font-weight="normal" fill="#1c1c1c" transform="rotate(-90 280.8 758)">10</text>
<text x="280.8" y="831" font-size="11" text-anchor="middle" font-weight="normal" fill="#1c1c1c" transform="rotate(-90 280.8 831)">4,30</text>
<text x="280.8" y="922.5" font-size="11" text-anchor="middle" font-weight="normal" fill="#1c1c1c" transform="rotate(-90 280.8 922.5)">37<tspan dy="-4" font-size="6.8">5</tspan></text>
<line x1="300.1" y1="305.3" x2="300.1" y2="912.7" stroke="#1a1a1a" stroke-width="1.15"/>
<line x1="295.6" y1="306.3" x2="304.1" y2="306.3" stroke="#1a1a1a" stroke-width="1.1"/>
<line x1="299.1" y1="308.8" x2="303.1" y2="303.8" stroke="#1a1a1a" stroke-width="1.1"/>
<line x1="295.6" y1="443.1" x2="304.1" y2="443.1" stroke="#1a1a1a" stroke-width="1.1"/>
<line x1="299.1" y1="445.6" x2="303.1" y2="440.6" stroke="#1a1a1a" stroke-width="1.1"/>
<line x1="295.6" y1="495.4" x2="304.1" y2="495.4" stroke="#1a1a1a" stroke-width="1.1"/>
<line x1="299.1" y1="497.9" x2="303.1" y2="492.9" stroke="#1a1a1a" stroke-width="1.1"/>
<line x1="295.6" y1="543.1" x2="304.1" y2="543.1" stroke="#1a1a1a" stroke-width="1.1"/>
<line x1="299.1" y1="545.6" x2="303.1" y2="540.6" stroke="#1a1a1a" stroke-width="1.1"/>
<line x1="295.6" y1="579.5" x2="304.1" y2="579.5" stroke="#1a1a1a" stroke-width="1.1"/>
<line x1="299.1" y1="582" x2="303.1" y2="577" stroke="#1a1a1a" stroke-width="1.1"/>
<line x1="295.6" y1="645" x2="304.1" y2="645" stroke="#1a1a1a" stroke-width="1.1"/>
<line x1="299.1" y1="647.5" x2="303.1" y2="642.5" stroke="#1a1a1a" stroke-width="1.1"/>
<line x1="295.6" y1="709.8" x2="304.1" y2="709.8" stroke="#1a1a1a" stroke-width="1.1"/>
<line x1="299.1" y1="712.3" x2="303.1" y2="707.3" stroke="#1a1a1a" stroke-width="1.1"/>
<line x1="295.6" y1="728.5" x2="304.1" y2="728.5" stroke="#1a1a1a" stroke-width="1.1"/>
<line x1="299.1" y1="731" x2="303.1" y2="726" stroke="#1a1a1a" stroke-width="1.1"/>
<line x1="295.6" y1="776.3" x2="304.1" y2="776.3" stroke="#1a1a1a" stroke-width="1.1"/>
<line x1="299.1" y1="778.8" x2="303.1" y2="773.8" stroke="#1a1a1a" stroke-width="1.1"/>
<line x1="295.6" y1="911.7" x2="304.1" y2="911.7" stroke="#1a1a1a" stroke-width="1.1"/>
<line x1="299.1" y1="914.2" x2="303.1" y2="909.2" stroke="#1a1a1a" stroke-width="1.1"/>
<text x="298.3" y="374.5" font-size="11" text-anchor="middle" font-weight="normal" fill="#1c1c1c" transform="rotate(-90 298.3 374.5)">4,00</text>
<text x="298.3" y="470" font-size="11" text-anchor="middle" font-weight="normal" fill="#1c1c1c" transform="rotate(-90 298.3 470)">1,52<tspan dy="-4" font-size="6.8">5</tspan></text>
<text x="298.3" y="519" font-size="11" text-anchor="middle" font-weight="normal" fill="#1c1c1c" transform="rotate(-90 298.3 519)">1,40</text>
<text x="298.3" y="558.6" font-size="11" text-anchor="middle" font-weight="normal" fill="#1c1c1c" transform="rotate(-90 298.3 558.6)">1,07<tspan dy="-4" font-size="6.8">5</tspan></text>
<text x="298.3" y="611" font-size="11" text-anchor="middle" font-weight="normal" fill="#1c1c1c" transform="rotate(-90 298.3 611)">1,92<tspan dy="-4" font-size="6.8">5</tspan></text>
<text x="298.3" y="667" font-size="11" text-anchor="middle" font-weight="normal" fill="#1c1c1c" transform="rotate(-90 298.3 667)">1,92<tspan dy="-4" font-size="6.8">5</tspan></text>
<text x="298.3" y="700.4" font-size="11" text-anchor="middle" font-weight="normal" fill="#1c1c1c" transform="rotate(-90 298.3 700.4)">52<tspan dy="-4" font-size="6.8">5</tspan></text>
<text x="298.3" y="752.5" font-size="11" text-anchor="middle" font-weight="normal" fill="#1c1c1c" transform="rotate(-90 298.3 752.5)">1,40</text>
<text x="298.3" y="842.5" font-size="11" text-anchor="middle" font-weight="normal" fill="#1c1c1c" transform="rotate(-90 298.3 842.5)">3,97<tspan dy="-4" font-size="6.8">5</tspan></text>
<line x1="727.3" y1="303.5" x2="727.3" y2="912.6" stroke="#1a1a1a" stroke-width="1.15"/>
<line x1="722.8" y1="304.5" x2="731.3" y2="304.5" stroke="#1a1a1a" stroke-width="1.1"/>
<line x1="726.3" y1="307" x2="730.3" y2="302" stroke="#1a1a1a" stroke-width="1.1"/>
<line x1="722.8" y1="398.6" x2="731.3" y2="398.6" stroke="#1a1a1a" stroke-width="1.1"/>
<line x1="726.3" y1="401.1" x2="730.3" y2="396.1" stroke="#1a1a1a" stroke-width="1.1"/>
<line x1="722.8" y1="566" x2="731.3" y2="566" stroke="#1a1a1a" stroke-width="1.1"/>
<line x1="726.3" y1="568.5" x2="730.3" y2="563.5" stroke="#1a1a1a" stroke-width="1.1"/>
<line x1="722.8" y1="625" x2="731.3" y2="625" stroke="#1a1a1a" stroke-width="1.1"/>
<line x1="726.3" y1="627.5" x2="730.3" y2="622.5" stroke="#1a1a1a" stroke-width="1.1"/>
<line x1="722.8" y1="691" x2="731.3" y2="691" stroke="#1a1a1a" stroke-width="1.1"/>
<line x1="726.3" y1="693.5" x2="730.3" y2="688.5" stroke="#1a1a1a" stroke-width="1.1"/>
<line x1="722.8" y1="769" x2="731.3" y2="769" stroke="#1a1a1a" stroke-width="1.1"/>
<line x1="726.3" y1="771.5" x2="730.3" y2="766.5" stroke="#1a1a1a" stroke-width="1.1"/>
<line x1="722.8" y1="911.6" x2="731.3" y2="911.6" stroke="#1a1a1a" stroke-width="1.1"/>
<line x1="726.3" y1="914.1" x2="730.3" y2="909.1" stroke="#1a1a1a" stroke-width="1.1"/>
<text x="725.3" y="351" font-size="11" text-anchor="middle" font-weight="normal" fill="#1c1c1c" transform="rotate(-90 725.3 351)">2,77<tspan dy="-4" font-size="6.8">5</tspan></text>
<text x="725.3" y="478" font-size="11" text-anchor="middle" font-weight="normal" fill="#1c1c1c" transform="rotate(-90 725.3 478)">4,92<tspan dy="-4" font-size="6.8">5</tspan></text>
<text x="725.3" y="594.5" font-size="11" text-anchor="middle" font-weight="normal" fill="#1c1c1c" transform="rotate(-90 725.3 594.5)">1,70</text>
<text x="725.3" y="650" font-size="11" text-anchor="middle" font-weight="normal" fill="#1c1c1c" transform="rotate(-90 725.3 650)">1,95</text>
<text x="725.3" y="730" font-size="11" text-anchor="middle" font-weight="normal" fill="#1c1c1c" transform="rotate(-90 725.3 730)">2,30</text>
<text x="725.3" y="805" font-size="11" text-anchor="middle" font-weight="normal" fill="#1c1c1c" transform="rotate(-90 725.3 805)">4,17<tspan dy="-4" font-size="6.8">5</tspan></text>
<text x="725.3" y="921.5" font-size="11" text-anchor="middle" font-weight="normal" fill="#1c1c1c" transform="rotate(-90 725.3 921.5)">37<tspan dy="-4" font-size="6.8">5</tspan></text>
<line x1="744.4" y1="397.6" x2="744.4" y2="912.6" stroke="#1a1a1a" stroke-width="1.15"/>
<line x1="739.9" y1="398.6" x2="748.4" y2="398.6" stroke="#1a1a1a" stroke-width="1.1"/>
<line x1="743.4" y1="401.1" x2="747.4" y2="396.1" stroke="#1a1a1a" stroke-width="1.1"/>
<line x1="739.9" y1="411" x2="748.4" y2="411" stroke="#1a1a1a" stroke-width="1.1"/>
<line x1="743.4" y1="413.5" x2="747.4" y2="408.5" stroke="#1a1a1a" stroke-width="1.1"/>
<line x1="739.9" y1="534.5" x2="748.4" y2="534.5" stroke="#1a1a1a" stroke-width="1.1"/>
<line x1="743.4" y1="537" x2="747.4" y2="532" stroke="#1a1a1a" stroke-width="1.1"/>
<line x1="739.9" y1="537.9" x2="748.4" y2="537.9" stroke="#1a1a1a" stroke-width="1.1"/>
<line x1="743.4" y1="540.4" x2="747.4" y2="535.4" stroke="#1a1a1a" stroke-width="1.1"/>
<line x1="739.9" y1="595.9" x2="748.4" y2="595.9" stroke="#1a1a1a" stroke-width="1.1"/>
<line x1="743.4" y1="598.4" x2="747.4" y2="593.4" stroke="#1a1a1a" stroke-width="1.1"/>
<line x1="739.9" y1="599.3" x2="748.4" y2="599.3" stroke="#1a1a1a" stroke-width="1.1"/>
<line x1="743.4" y1="601.8" x2="747.4" y2="596.8" stroke="#1a1a1a" stroke-width="1.1"/>
<line x1="739.9" y1="650.5" x2="748.4" y2="650.5" stroke="#1a1a1a" stroke-width="1.1"/>
<line x1="743.4" y1="653" x2="747.4" y2="648" stroke="#1a1a1a" stroke-width="1.1"/>
<line x1="739.9" y1="660.7" x2="748.4" y2="660.7" stroke="#1a1a1a" stroke-width="1.1"/>
<line x1="743.4" y1="663.2" x2="747.4" y2="658.2" stroke="#1a1a1a" stroke-width="1.1"/>
<line x1="739.9" y1="722.1" x2="748.4" y2="722.1" stroke="#1a1a1a" stroke-width="1.1"/>
<line x1="743.4" y1="724.6" x2="747.4" y2="719.6" stroke="#1a1a1a" stroke-width="1.1"/>
<line x1="739.9" y1="725.5" x2="748.4" y2="725.5" stroke="#1a1a1a" stroke-width="1.1"/>
<line x1="743.4" y1="728" x2="747.4" y2="723" stroke="#1a1a1a" stroke-width="1.1"/>
<line x1="739.9" y1="797.1" x2="748.4" y2="797.1" stroke="#1a1a1a" stroke-width="1.1"/>
<line x1="743.4" y1="799.6" x2="747.4" y2="794.6" stroke="#1a1a1a" stroke-width="1.1"/>
<line x1="739.9" y1="800.5" x2="748.4" y2="800.5" stroke="#1a1a1a" stroke-width="1.1"/>
<line x1="743.4" y1="803" x2="747.4" y2="798" stroke="#1a1a1a" stroke-width="1.1"/>
<line x1="739.9" y1="899.4" x2="748.4" y2="899.4" stroke="#1a1a1a" stroke-width="1.1"/>
<line x1="743.4" y1="901.9" x2="747.4" y2="896.9" stroke="#1a1a1a" stroke-width="1.1"/>
<line x1="739.9" y1="911.6" x2="748.4" y2="911.6" stroke="#1a1a1a" stroke-width="1.1"/>
<line x1="743.4" y1="914.1" x2="747.4" y2="909.1" stroke="#1a1a1a" stroke-width="1.1"/>
<text x="742.3" y="388.5" font-size="11" text-anchor="middle" font-weight="normal" fill="#1c1c1c" transform="rotate(-90 742.3 388.5)">7<tspan dy="-4" font-size="6.8">5</tspan></text>
<text x="742.3" y="418" font-size="11" text-anchor="middle" font-weight="normal" fill="#1c1c1c" transform="rotate(-90 742.3 418)">30</text>
<text x="742.3" y="480" font-size="11" text-anchor="middle" font-weight="normal" fill="#1c1c1c" transform="rotate(-90 742.3 480)">3,60</text>
<text x="742.3" y="537" font-size="11" text-anchor="middle" font-weight="normal" fill="#1c1c1c" transform="rotate(-90 742.3 537)">10</text>
<text x="742.3" y="567" font-size="11" text-anchor="middle" font-weight="normal" fill="#1c1c1c" transform="rotate(-90 742.3 567)">1,70</text>
<text x="742.3" y="605" font-size="11" text-anchor="middle" font-weight="normal" fill="#1c1c1c" transform="rotate(-90 742.3 605)">10</text>
<text x="742.3" y="630.5" font-size="11" text-anchor="middle" font-weight="normal" fill="#1c1c1c" transform="rotate(-90 742.3 630.5)">1,50</text>
<text x="742.3" y="669" font-size="11" text-anchor="middle" font-weight="normal" fill="#1c1c1c" transform="rotate(-90 742.3 669)">30</text>
<text x="742.3" y="692" font-size="11" text-anchor="middle" font-weight="normal" fill="#1c1c1c" transform="rotate(-90 742.3 692)">1,80</text>
<text x="742.3" y="732" font-size="11" text-anchor="middle" font-weight="normal" fill="#1c1c1c" transform="rotate(-90 742.3 732)">10</text>
<text x="742.3" y="754" font-size="11" text-anchor="middle" font-weight="normal" fill="#1c1c1c" transform="rotate(-90 742.3 754)">2,10</text>
<text x="742.3" y="794" font-size="11" text-anchor="middle" font-weight="normal" fill="#1c1c1c" transform="rotate(-90 742.3 794)">10</text>
<text x="742.3" y="849" font-size="11" text-anchor="middle" font-weight="normal" fill="#1c1c1c" transform="rotate(-90 742.3 849)">2,90</text>
<line x1="761.3" y1="397.6" x2="761.3" y2="912.6" stroke="#1a1a1a" stroke-width="1.15"/>
<line x1="756.8" y1="398.6" x2="765.3" y2="398.6" stroke="#1a1a1a" stroke-width="1.1"/>
<line x1="760.3" y1="401.1" x2="764.3" y2="396.1" stroke="#1a1a1a" stroke-width="1.1"/>
<line x1="756.8" y1="911.6" x2="765.3" y2="911.6" stroke="#1a1a1a" stroke-width="1.1"/>
<line x1="760.3" y1="914.1" x2="764.3" y2="909.1" stroke="#1a1a1a" stroke-width="1.1"/>
<text x="759.3" y="656" font-size="11" text-anchor="middle" font-weight="normal" fill="#1c1c1c" transform="rotate(-90 759.3 656)">15,05</text>
<line x1="760.9" y1="236" x2="760.9" y2="372.6" stroke="#111" stroke-width="1.2"/>
<path d="M760.9 225.5 L756.3 239 L765.5 239 Z" fill="#111" stroke="#111" stroke-width="0.8"/>
<path d="M738.7 285.1 L740.2 344.5 L742.8 347.6 L785.8 330.4 M741 342.2 L785.3 326.8 M738.7 285.1 L779.8 269.4 M745 280.5 L760.3 267.8 L769 267.2 M745 283.2 L779.8 272.6 M754.6 290.3 L781.5 283.5 M754.6 290.3 L754.6 305.2 M755.1 312 L755.5 326.4 M764.7 301.9 L769 300.2 M764.7 311.6 L770.4 309.8 M765 308.5 L770 307 M755.5 326.4 L785.3 316.3 M756 323 L785 313.5" fill="none" stroke="#f0883a" stroke-width="1.15"/>
<path d="M779.6 269.2 L789.2 268.3 L789.6 280 L781.5 284.6 Z" fill="#0b0d3a" stroke="#0b0d3a" stroke-width="0.6"/>
<path d="M769 267.1 L785 266.5 L789.2 268.3 L779.6 269.8 Z" fill="#0b0d3a" stroke="#0b0d3a" stroke-width="0.6"/>
<path d="M754.6 290.3 L764.2 290.3 L764.7 301.9 L755.1 305.2 Z" fill="#0b0d3a" stroke="#0b0d3a" stroke-width="0.6"/>
<path d="M769 300 L779.1 298.5 L779.1 306.7 L770.4 310 Z" fill="#0b0d3a" stroke="#0b0d3a" stroke-width="0.6"/>
<path d="M755.1 312 L764.7 311.5 L765.1 322 L755.5 326.4 Z" fill="#0b0d3a" stroke="#0b0d3a" stroke-width="0.6"/>
<path d="M785.3 316.3 L794 314.4 L794.4 325.9 L786.3 330.2 Z" fill="#0b0d3a" stroke="#0b0d3a" stroke-width="0.6"/>
<text x="185.9" y="1109.5" font-size="9.6" text-anchor="start" font-weight="normal" fill="#2c2c2c" textLength="83.5" lengthAdjust="spacingAndGlyphs">JELMAGYARÁZAT:</text>
<line x1="185.9" y1="1111.5" x2="269.5" y2="1111.5" stroke="#2c2c2c" stroke-width="0.8"/>
<rect x="185.5" y="1118.6" width="23.1" height="10" fill="url(#hatch)" stroke="#444" stroke-width="1"/>
<text x="217.6" y="1127.3" font-size="9.3" text-anchor="start" font-weight="normal" fill="#2c2c2c" textLength="84" lengthAdjust="spacingAndGlyphs">Új falazott szerkezet</text>
<rect x="185.5" y="1141.3" width="23.1" height="10.7" fill="url(#hatch)" stroke="#444" stroke-width="1"/>
<rect x="185.5" y="1152" width="23.1" height="3.8" fill="#e8c060" stroke="#444" stroke-width="1"/>
<text x="217.6" y="1150.3" font-size="9.3" text-anchor="start" font-weight="normal" fill="#2c2c2c">Új falazat, hőszigetelésssel</text>
<circle cx="196.8" cy="1171.2" r="9.6" fill="none" stroke="#333" stroke-width="1"/>
<text x="196.8" y="1174.8" font-size="9.2" text-anchor="middle" font-weight="normal" fill="#2c2c2c">ÚM</text>
<text x="217.6" y="1174.8" font-size="9.3" text-anchor="start" font-weight="normal" fill="#2c2c2c" textLength="334" lengthAdjust="spacingAndGlyphs">Új hőszigetelt üvegezésű műanyag nyílászáró, kívül szürke - belül fehér színben</text>
<circle cx="196.8" cy="1195.7" r="9.6" fill="none" stroke="#333" stroke-width="1"/>
<text x="196.8" y="1199.3" font-size="9.2" text-anchor="middle" font-weight="normal" fill="#2c2c2c">ÚJ</text>
<text x="217.6" y="1199.3" font-size="9.3" text-anchor="start" font-weight="normal" fill="#2c2c2c">Új belső nyílászáró</text>
</svg></body></html>
